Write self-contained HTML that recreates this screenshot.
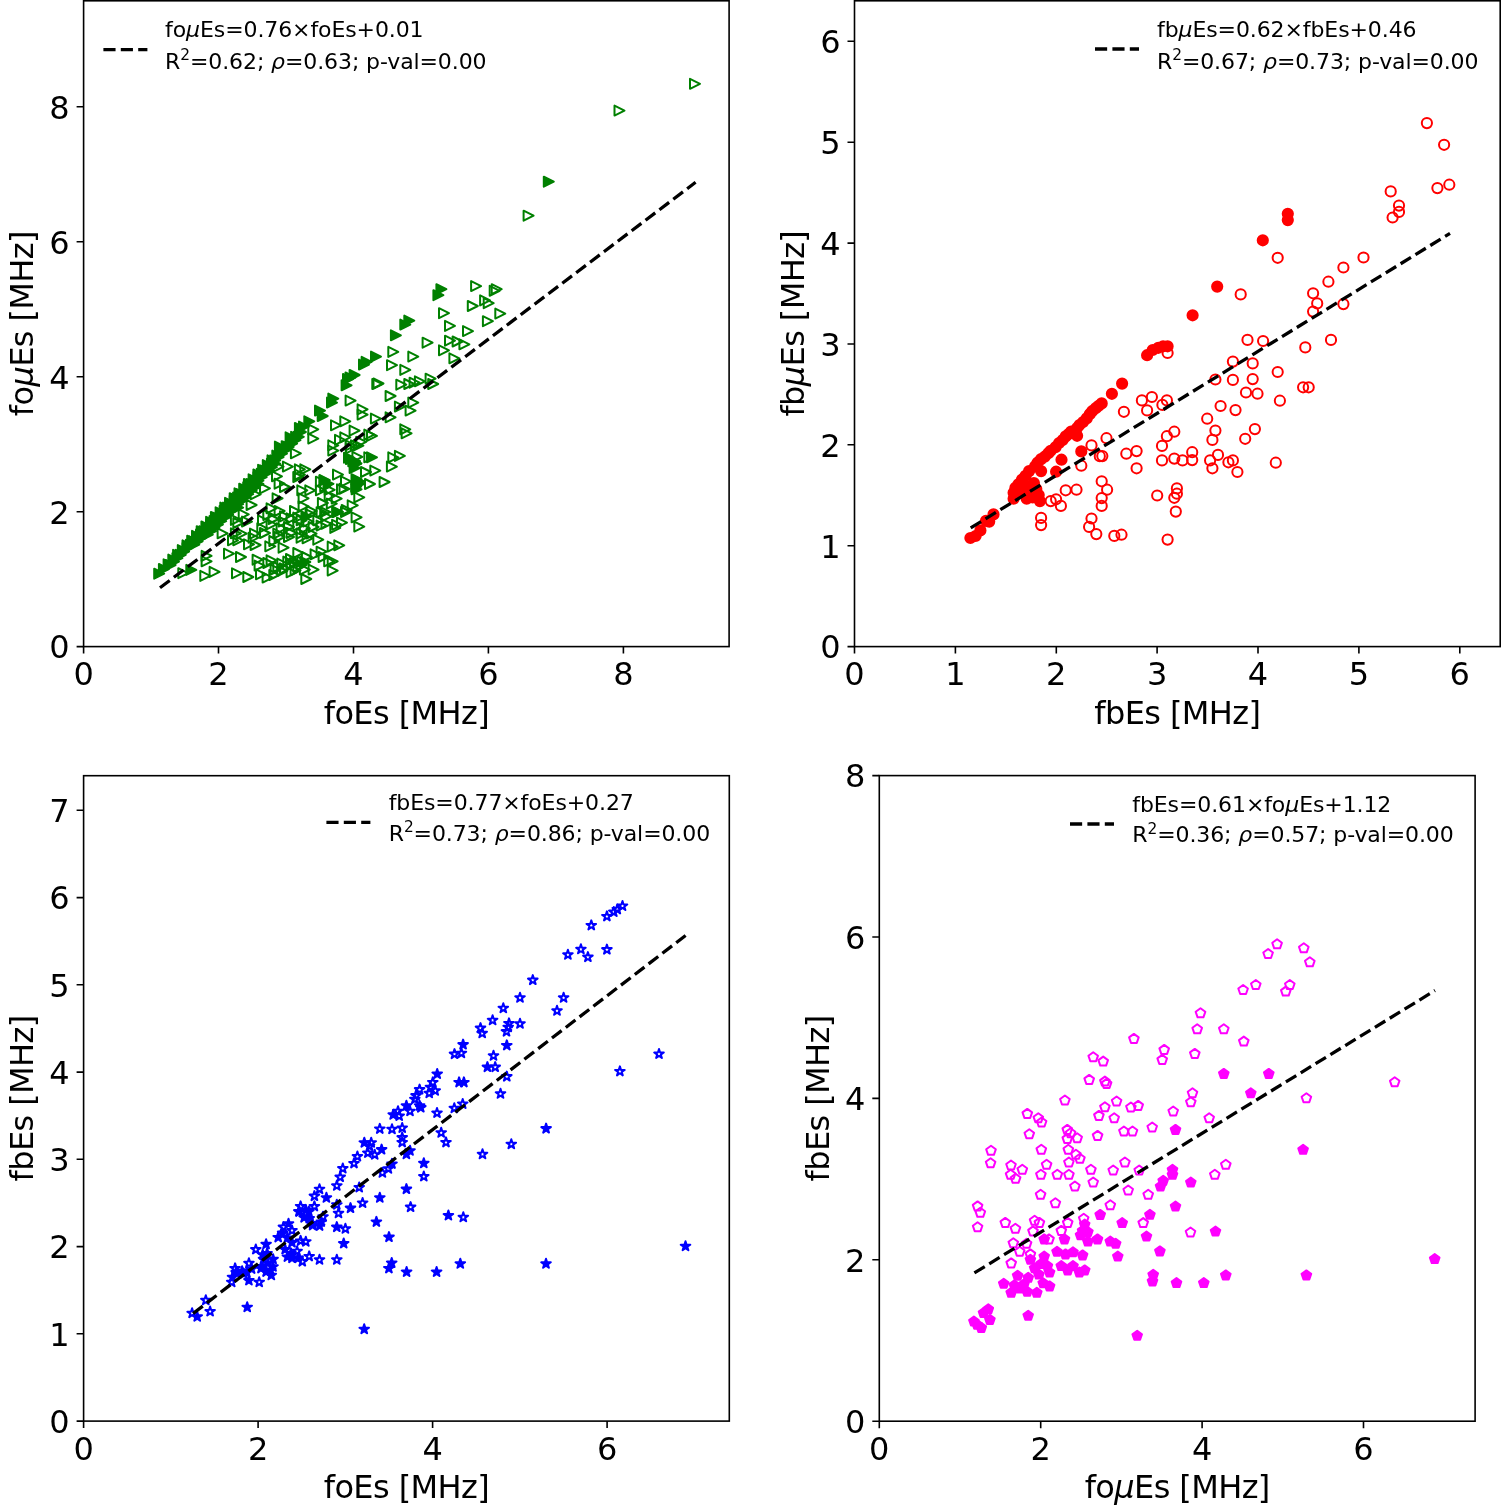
<!DOCTYPE html><html><head><meta charset="utf-8"><style>html,body{margin:0;padding:0;background:#fff;width:1501px;height:1509px;overflow:hidden}svg{display:block}text{font-family:'DejaVu Sans', 'Liberation Sans', sans-serif;fill:#000}</style></head><body>
<svg width="1501" height="1509" viewBox="0 0 1501 1509">
<rect width="1501" height="1509" fill="#fff"/>
<g id="TL">
<clipPath id="cTL"><rect x="83.6" y="0.8" width="645.5" height="645.8000000000001"/></clipPath>
<g clip-path="url(#cTL)">
<path d="M164.2,573.7L154.2,568.7L154.2,578.7Z" fill="#008000" stroke="#008000" stroke-width="2" stroke-linejoin="round"/>
<path d="M168.9,569.0L158.9,564.0L158.9,574.0Z" fill="#008000" stroke="#008000" stroke-width="2" stroke-linejoin="round"/>
<path d="M173.6,564.3L163.6,559.3L163.6,569.3Z" fill="#008000" stroke="#008000" stroke-width="2" stroke-linejoin="round"/>
<path d="M178.3,559.6L168.3,554.6L168.3,564.6Z" fill="#008000" stroke="#008000" stroke-width="2" stroke-linejoin="round"/>
<path d="M183.1,554.8L173.1,549.8L173.1,559.8Z" fill="#008000" stroke="#008000" stroke-width="2" stroke-linejoin="round"/>
<path d="M187.8,550.1L177.8,545.1L177.8,555.1Z" fill="#008000" stroke="#008000" stroke-width="2" stroke-linejoin="round"/>
<path d="M192.5,545.4L182.5,540.4L182.5,550.4Z" fill="#008000" stroke="#008000" stroke-width="2" stroke-linejoin="round"/>
<path d="M197.2,540.7L187.2,535.7L187.2,545.7Z" fill="#008000" stroke="#008000" stroke-width="2" stroke-linejoin="round"/>
<path d="M202.0,535.9L192.0,530.9L192.0,540.9Z" fill="#008000" stroke="#008000" stroke-width="2" stroke-linejoin="round"/>
<path d="M206.7,531.2L196.7,526.2L196.7,536.2Z" fill="#008000" stroke="#008000" stroke-width="2" stroke-linejoin="round"/>
<path d="M211.4,526.5L201.4,521.5L201.4,531.5Z" fill="#008000" stroke="#008000" stroke-width="2" stroke-linejoin="round"/>
<path d="M216.1,521.8L206.1,516.8L206.1,526.8Z" fill="#008000" stroke="#008000" stroke-width="2" stroke-linejoin="round"/>
<path d="M220.9,517.0L210.9,512.0L210.9,522.0Z" fill="#008000" stroke="#008000" stroke-width="2" stroke-linejoin="round"/>
<path d="M225.6,512.3L215.6,507.3L215.6,517.3Z" fill="#008000" stroke="#008000" stroke-width="2" stroke-linejoin="round"/>
<path d="M230.3,507.6L220.3,502.6L220.3,512.6Z" fill="#008000" stroke="#008000" stroke-width="2" stroke-linejoin="round"/>
<path d="M235.0,502.9L225.0,497.9L225.0,507.9Z" fill="#008000" stroke="#008000" stroke-width="2" stroke-linejoin="round"/>
<path d="M239.7,498.2L229.7,493.2L229.7,503.2Z" fill="#008000" stroke="#008000" stroke-width="2" stroke-linejoin="round"/>
<path d="M244.5,493.4L234.5,488.4L234.5,498.4Z" fill="#008000" stroke="#008000" stroke-width="2" stroke-linejoin="round"/>
<path d="M249.2,488.7L239.2,483.7L239.2,493.7Z" fill="#008000" stroke="#008000" stroke-width="2" stroke-linejoin="round"/>
<path d="M253.9,484.0L243.9,479.0L243.9,489.0Z" fill="#008000" stroke="#008000" stroke-width="2" stroke-linejoin="round"/>
<path d="M258.6,479.3L248.6,474.3L248.6,484.3Z" fill="#008000" stroke="#008000" stroke-width="2" stroke-linejoin="round"/>
<path d="M263.4,474.5L253.4,469.5L253.4,479.5Z" fill="#008000" stroke="#008000" stroke-width="2" stroke-linejoin="round"/>
<path d="M268.1,469.8L258.1,464.8L258.1,474.8Z" fill="#008000" stroke="#008000" stroke-width="2" stroke-linejoin="round"/>
<path d="M272.8,465.1L262.8,460.1L262.8,470.1Z" fill="#008000" stroke="#008000" stroke-width="2" stroke-linejoin="round"/>
<path d="M277.5,460.4L267.5,455.4L267.5,465.4Z" fill="#008000" stroke="#008000" stroke-width="2" stroke-linejoin="round"/>
<path d="M282.3,455.6L272.3,450.6L272.3,460.6Z" fill="#008000" stroke="#008000" stroke-width="2" stroke-linejoin="round"/>
<path d="M287.0,450.9L277.0,445.9L277.0,455.9Z" fill="#008000" stroke="#008000" stroke-width="2" stroke-linejoin="round"/>
<path d="M291.7,446.2L281.7,441.2L281.7,451.2Z" fill="#008000" stroke="#008000" stroke-width="2" stroke-linejoin="round"/>
<path d="M296.4,441.5L286.4,436.5L286.4,446.5Z" fill="#008000" stroke="#008000" stroke-width="2" stroke-linejoin="round"/>
<path d="M301.1,436.8L291.1,431.8L291.1,441.8Z" fill="#008000" stroke="#008000" stroke-width="2" stroke-linejoin="round"/>
<path d="M305.9,432.0L295.9,427.0L295.9,437.0Z" fill="#008000" stroke="#008000" stroke-width="2" stroke-linejoin="round"/>
<path d="M175.6,565.0L165.6,560.0L165.6,570.0Z" fill="#008000" stroke="#008000" stroke-width="2" stroke-linejoin="round"/>
<path d="M179.0,561.6L169.0,556.6L169.0,566.6Z" fill="#008000" stroke="#008000" stroke-width="2" stroke-linejoin="round"/>
<path d="M182.4,558.2L172.4,553.2L172.4,563.2Z" fill="#008000" stroke="#008000" stroke-width="2" stroke-linejoin="round"/>
<path d="M185.8,554.8L175.8,549.8L175.8,559.8Z" fill="#008000" stroke="#008000" stroke-width="2" stroke-linejoin="round"/>
<path d="M189.1,551.5L179.1,546.5L179.1,556.5Z" fill="#008000" stroke="#008000" stroke-width="2" stroke-linejoin="round"/>
<path d="M192.5,548.1L182.5,543.1L182.5,553.1Z" fill="#008000" stroke="#008000" stroke-width="2" stroke-linejoin="round"/>
<path d="M195.9,544.7L185.9,539.7L185.9,549.7Z" fill="#008000" stroke="#008000" stroke-width="2" stroke-linejoin="round"/>
<path d="M199.3,541.3L189.3,536.3L189.3,546.3Z" fill="#008000" stroke="#008000" stroke-width="2" stroke-linejoin="round"/>
<path d="M199.3,544.7L189.3,539.7L189.3,549.7Z" fill="#008000" stroke="#008000" stroke-width="2" stroke-linejoin="round"/>
<path d="M202.6,538.0L192.6,533.0L192.6,543.0Z" fill="#008000" stroke="#008000" stroke-width="2" stroke-linejoin="round"/>
<path d="M202.6,541.3L192.6,536.3L192.6,546.3Z" fill="#008000" stroke="#008000" stroke-width="2" stroke-linejoin="round"/>
<path d="M206.0,534.6L196.0,529.6L196.0,539.6Z" fill="#008000" stroke="#008000" stroke-width="2" stroke-linejoin="round"/>
<path d="M206.0,538.0L196.0,533.0L196.0,543.0Z" fill="#008000" stroke="#008000" stroke-width="2" stroke-linejoin="round"/>
<path d="M209.4,531.2L199.4,526.2L199.4,536.2Z" fill="#008000" stroke="#008000" stroke-width="2" stroke-linejoin="round"/>
<path d="M209.4,534.6L199.4,529.6L199.4,539.6Z" fill="#008000" stroke="#008000" stroke-width="2" stroke-linejoin="round"/>
<path d="M212.8,527.8L202.8,522.8L202.8,532.8Z" fill="#008000" stroke="#008000" stroke-width="2" stroke-linejoin="round"/>
<path d="M212.8,531.2L202.8,526.2L202.8,536.2Z" fill="#008000" stroke="#008000" stroke-width="2" stroke-linejoin="round"/>
<path d="M212.8,534.6L202.8,529.6L202.8,539.6Z" fill="#008000" stroke="#008000" stroke-width="2" stroke-linejoin="round"/>
<path d="M216.1,524.5L206.1,519.5L206.1,529.5Z" fill="#008000" stroke="#008000" stroke-width="2" stroke-linejoin="round"/>
<path d="M216.1,527.8L206.1,522.8L206.1,532.8Z" fill="#008000" stroke="#008000" stroke-width="2" stroke-linejoin="round"/>
<path d="M216.1,531.2L206.1,526.2L206.1,536.2Z" fill="#008000" stroke="#008000" stroke-width="2" stroke-linejoin="round"/>
<path d="M219.5,521.1L209.5,516.1L209.5,526.1Z" fill="#008000" stroke="#008000" stroke-width="2" stroke-linejoin="round"/>
<path d="M219.5,524.5L209.5,519.5L209.5,529.5Z" fill="#008000" stroke="#008000" stroke-width="2" stroke-linejoin="round"/>
<path d="M219.5,527.8L209.5,522.8L209.5,532.8Z" fill="#008000" stroke="#008000" stroke-width="2" stroke-linejoin="round"/>
<path d="M222.9,517.7L212.9,512.7L212.9,522.7Z" fill="#008000" stroke="#008000" stroke-width="2" stroke-linejoin="round"/>
<path d="M222.9,521.1L212.9,516.1L212.9,526.1Z" fill="#008000" stroke="#008000" stroke-width="2" stroke-linejoin="round"/>
<path d="M222.9,524.5L212.9,519.5L212.9,529.5Z" fill="#008000" stroke="#008000" stroke-width="2" stroke-linejoin="round"/>
<path d="M226.2,514.3L216.2,509.3L216.2,519.3Z" fill="#008000" stroke="#008000" stroke-width="2" stroke-linejoin="round"/>
<path d="M226.2,517.7L216.2,512.7L216.2,522.7Z" fill="#008000" stroke="#008000" stroke-width="2" stroke-linejoin="round"/>
<path d="M226.2,521.1L216.2,516.1L216.2,526.1Z" fill="#008000" stroke="#008000" stroke-width="2" stroke-linejoin="round"/>
<path d="M229.6,511.0L219.6,506.0L219.6,516.0Z" fill="#008000" stroke="#008000" stroke-width="2" stroke-linejoin="round"/>
<path d="M229.6,514.3L219.6,509.3L219.6,519.3Z" fill="#008000" stroke="#008000" stroke-width="2" stroke-linejoin="round"/>
<path d="M229.6,517.7L219.6,512.7L219.6,522.7Z" fill="#008000" stroke="#008000" stroke-width="2" stroke-linejoin="round"/>
<path d="M233.0,507.6L223.0,502.6L223.0,512.6Z" fill="#008000" stroke="#008000" stroke-width="2" stroke-linejoin="round"/>
<path d="M233.0,511.0L223.0,506.0L223.0,516.0Z" fill="#008000" stroke="#008000" stroke-width="2" stroke-linejoin="round"/>
<path d="M233.0,514.3L223.0,509.3L223.0,519.3Z" fill="#008000" stroke="#008000" stroke-width="2" stroke-linejoin="round"/>
<path d="M236.4,504.2L226.4,499.2L226.4,509.2Z" fill="#008000" stroke="#008000" stroke-width="2" stroke-linejoin="round"/>
<path d="M236.4,507.6L226.4,502.6L226.4,512.6Z" fill="#008000" stroke="#008000" stroke-width="2" stroke-linejoin="round"/>
<path d="M236.4,511.0L226.4,506.0L226.4,516.0Z" fill="#008000" stroke="#008000" stroke-width="2" stroke-linejoin="round"/>
<path d="M239.7,500.9L229.7,495.9L229.7,505.9Z" fill="#008000" stroke="#008000" stroke-width="2" stroke-linejoin="round"/>
<path d="M239.7,504.2L229.7,499.2L229.7,509.2Z" fill="#008000" stroke="#008000" stroke-width="2" stroke-linejoin="round"/>
<path d="M239.7,507.6L229.7,502.6L229.7,512.6Z" fill="#008000" stroke="#008000" stroke-width="2" stroke-linejoin="round"/>
<path d="M243.1,497.5L233.1,492.5L233.1,502.5Z" fill="#008000" stroke="#008000" stroke-width="2" stroke-linejoin="round"/>
<path d="M243.1,500.9L233.1,495.9L233.1,505.9Z" fill="#008000" stroke="#008000" stroke-width="2" stroke-linejoin="round"/>
<path d="M243.1,504.2L233.1,499.2L233.1,509.2Z" fill="#008000" stroke="#008000" stroke-width="2" stroke-linejoin="round"/>
<path d="M243.1,507.6L233.1,502.6L233.1,512.6Z" fill="#008000" stroke="#008000" stroke-width="2" stroke-linejoin="round"/>
<path d="M246.5,494.1L236.5,489.1L236.5,499.1Z" fill="#008000" stroke="#008000" stroke-width="2" stroke-linejoin="round"/>
<path d="M246.5,497.5L236.5,492.5L236.5,502.5Z" fill="#008000" stroke="#008000" stroke-width="2" stroke-linejoin="round"/>
<path d="M246.5,500.9L236.5,495.9L236.5,505.9Z" fill="#008000" stroke="#008000" stroke-width="2" stroke-linejoin="round"/>
<path d="M249.9,490.7L239.9,485.7L239.9,495.7Z" fill="#008000" stroke="#008000" stroke-width="2" stroke-linejoin="round"/>
<path d="M249.9,494.1L239.9,489.1L239.9,499.1Z" fill="#008000" stroke="#008000" stroke-width="2" stroke-linejoin="round"/>
<path d="M249.9,497.5L239.9,492.5L239.9,502.5Z" fill="#008000" stroke="#008000" stroke-width="2" stroke-linejoin="round"/>
<path d="M253.2,487.4L243.2,482.4L243.2,492.4Z" fill="#008000" stroke="#008000" stroke-width="2" stroke-linejoin="round"/>
<path d="M253.2,490.7L243.2,485.7L243.2,495.7Z" fill="#008000" stroke="#008000" stroke-width="2" stroke-linejoin="round"/>
<path d="M253.2,494.1L243.2,489.1L243.2,499.1Z" fill="#008000" stroke="#008000" stroke-width="2" stroke-linejoin="round"/>
<path d="M256.6,484.0L246.6,479.0L246.6,489.0Z" fill="#008000" stroke="#008000" stroke-width="2" stroke-linejoin="round"/>
<path d="M256.6,487.4L246.6,482.4L246.6,492.4Z" fill="#008000" stroke="#008000" stroke-width="2" stroke-linejoin="round"/>
<path d="M256.6,490.7L246.6,485.7L246.6,495.7Z" fill="#008000" stroke="#008000" stroke-width="2" stroke-linejoin="round"/>
<path d="M260.0,480.6L250.0,475.6L250.0,485.6Z" fill="#008000" stroke="#008000" stroke-width="2" stroke-linejoin="round"/>
<path d="M260.0,484.0L250.0,479.0L250.0,489.0Z" fill="#008000" stroke="#008000" stroke-width="2" stroke-linejoin="round"/>
<path d="M260.0,487.4L250.0,482.4L250.0,492.4Z" fill="#008000" stroke="#008000" stroke-width="2" stroke-linejoin="round"/>
<path d="M263.4,477.2L253.4,472.2L253.4,482.2Z" fill="#008000" stroke="#008000" stroke-width="2" stroke-linejoin="round"/>
<path d="M263.4,480.6L253.4,475.6L253.4,485.6Z" fill="#008000" stroke="#008000" stroke-width="2" stroke-linejoin="round"/>
<path d="M263.4,484.0L253.4,479.0L253.4,489.0Z" fill="#008000" stroke="#008000" stroke-width="2" stroke-linejoin="round"/>
<path d="M266.7,473.9L256.7,468.9L256.7,478.9Z" fill="#008000" stroke="#008000" stroke-width="2" stroke-linejoin="round"/>
<path d="M266.7,477.2L256.7,472.2L256.7,482.2Z" fill="#008000" stroke="#008000" stroke-width="2" stroke-linejoin="round"/>
<path d="M270.1,470.5L260.1,465.5L260.1,475.5Z" fill="#008000" stroke="#008000" stroke-width="2" stroke-linejoin="round"/>
<path d="M270.1,473.9L260.1,468.9L260.1,478.9Z" fill="#008000" stroke="#008000" stroke-width="2" stroke-linejoin="round"/>
<path d="M273.5,467.1L263.5,462.1L263.5,472.1Z" fill="#008000" stroke="#008000" stroke-width="2" stroke-linejoin="round"/>
<path d="M273.5,470.5L263.5,465.5L263.5,475.5Z" fill="#008000" stroke="#008000" stroke-width="2" stroke-linejoin="round"/>
<path d="M276.9,463.7L266.9,458.7L266.9,468.7Z" fill="#008000" stroke="#008000" stroke-width="2" stroke-linejoin="round"/>
<path d="M276.9,467.1L266.9,462.1L266.9,472.1Z" fill="#008000" stroke="#008000" stroke-width="2" stroke-linejoin="round"/>
<path d="M280.2,460.4L270.2,455.4L270.2,465.4Z" fill="#008000" stroke="#008000" stroke-width="2" stroke-linejoin="round"/>
<path d="M280.2,463.7L270.2,458.7L270.2,468.7Z" fill="#008000" stroke="#008000" stroke-width="2" stroke-linejoin="round"/>
<path d="M283.6,457.0L273.6,452.0L273.6,462.0Z" fill="#008000" stroke="#008000" stroke-width="2" stroke-linejoin="round"/>
<path d="M287.0,453.6L277.0,448.6L277.0,458.6Z" fill="#008000" stroke="#008000" stroke-width="2" stroke-linejoin="round"/>
<path d="M290.4,450.2L280.4,445.2L280.4,455.2Z" fill="#008000" stroke="#008000" stroke-width="2" stroke-linejoin="round"/>
<path d="M293.7,446.9L283.7,441.9L283.7,451.9Z" fill="#008000" stroke="#008000" stroke-width="2" stroke-linejoin="round"/>
<path d="M297.1,443.5L287.1,438.5L287.1,448.5Z" fill="#008000" stroke="#008000" stroke-width="2" stroke-linejoin="round"/>
<path d="M300.5,440.1L290.5,435.1L290.5,445.1Z" fill="#008000" stroke="#008000" stroke-width="2" stroke-linejoin="round"/>
<path d="M303.8,436.8L293.8,431.8L293.8,441.8Z" fill="#008000" stroke="#008000" stroke-width="2" stroke-linejoin="round"/>
<path d="M188.3,573.2L178.3,568.2L178.3,578.2Z" fill="none" stroke="#008000" stroke-width="2" stroke-linejoin="round"/>
<path d="M196.3,569.9L186.3,564.9L186.3,574.9Z" fill="#008000" stroke="#008000" stroke-width="2" stroke-linejoin="round"/>
<path d="M210.3,575.9L200.3,570.9L200.3,580.9Z" fill="none" stroke="#008000" stroke-width="2" stroke-linejoin="round"/>
<path d="M219.6,571.9L209.6,566.9L209.6,576.9Z" fill="none" stroke="#008000" stroke-width="2" stroke-linejoin="round"/>
<path d="M211.6,555.9L201.6,550.9L201.6,560.9Z" fill="none" stroke="#008000" stroke-width="2" stroke-linejoin="round"/>
<path d="M211.6,561.3L201.6,556.3L201.6,566.3Z" fill="none" stroke="#008000" stroke-width="2" stroke-linejoin="round"/>
<path d="M334.2,561.3L324.2,556.3L324.2,566.3Z" fill="none" stroke="#008000" stroke-width="2" stroke-linejoin="round"/>
<path d="M227.6,533.3L217.6,528.3L217.6,538.3Z" fill="none" stroke="#008000" stroke-width="2" stroke-linejoin="round"/>
<path d="M240.9,533.3L230.9,528.3L230.9,538.3Z" fill="none" stroke="#008000" stroke-width="2" stroke-linejoin="round"/>
<path d="M330.2,512.0L320.2,507.0L320.2,517.0Z" fill="none" stroke="#008000" stroke-width="2" stroke-linejoin="round"/>
<path d="M283.6,466.6L273.6,461.6L273.6,471.6Z" fill="none" stroke="#008000" stroke-width="2" stroke-linejoin="round"/>
<path d="M292.9,466.6L282.9,461.6L282.9,471.6Z" fill="none" stroke="#008000" stroke-width="2" stroke-linejoin="round"/>
<path d="M304.9,469.3L294.9,464.3L294.9,474.3Z" fill="none" stroke="#008000" stroke-width="2" stroke-linejoin="round"/>
<path d="M304.9,474.6L294.9,469.6L294.9,479.6Z" fill="none" stroke="#008000" stroke-width="2" stroke-linejoin="round"/>
<path d="M330.2,486.6L320.2,481.6L320.2,491.6Z" fill="none" stroke="#008000" stroke-width="2" stroke-linejoin="round"/>
<path d="M240.9,519.9L230.9,514.9L230.9,524.9Z" fill="none" stroke="#008000" stroke-width="2" stroke-linejoin="round"/>
<path d="M380.3,470.6L370.3,465.6L370.3,475.6Z" fill="none" stroke="#008000" stroke-width="2" stroke-linejoin="round"/>
<path d="M371.0,472.0L361.0,467.0L361.0,477.0Z" fill="none" stroke="#008000" stroke-width="2" stroke-linejoin="round"/>
<path d="M343.0,474.6L333.0,469.6L333.0,479.6Z" fill="none" stroke="#008000" stroke-width="2" stroke-linejoin="round"/>
<path d="M351.0,481.3L341.0,476.3L341.0,486.3Z" fill="none" stroke="#008000" stroke-width="2" stroke-linejoin="round"/>
<path d="M364.3,481.3L354.3,476.3L354.3,486.3Z" fill="#008000" stroke="#008000" stroke-width="2" stroke-linejoin="round"/>
<path d="M375.0,484.0L365.0,479.0L365.0,489.0Z" fill="none" stroke="#008000" stroke-width="2" stroke-linejoin="round"/>
<path d="M389.6,482.0L379.6,477.0L379.6,487.0Z" fill="none" stroke="#008000" stroke-width="2" stroke-linejoin="round"/>
<path d="M361.6,489.3L351.6,484.3L351.6,494.3Z" fill="#008000" stroke="#008000" stroke-width="2" stroke-linejoin="round"/>
<path d="M347.0,489.3L337.0,484.3L337.0,494.3Z" fill="none" stroke="#008000" stroke-width="2" stroke-linejoin="round"/>
<path d="M364.3,497.3L354.3,492.3L354.3,502.3Z" fill="none" stroke="#008000" stroke-width="2" stroke-linejoin="round"/>
<path d="M341.7,498.6L331.7,493.6L331.7,503.6Z" fill="none" stroke="#008000" stroke-width="2" stroke-linejoin="round"/>
<path d="M357.7,505.3L347.7,500.3L347.7,510.3Z" fill="none" stroke="#008000" stroke-width="2" stroke-linejoin="round"/>
<path d="M343.0,512.0L333.0,507.0L333.0,517.0Z" fill="#008000" stroke="#008000" stroke-width="2" stroke-linejoin="round"/>
<path d="M351.0,512.0L341.0,507.0L341.0,517.0Z" fill="none" stroke="#008000" stroke-width="2" stroke-linejoin="round"/>
<path d="M361.6,517.3L351.6,512.3L351.6,522.3Z" fill="none" stroke="#008000" stroke-width="2" stroke-linejoin="round"/>
<path d="M347.0,522.6L337.0,517.6L337.0,527.6Z" fill="none" stroke="#008000" stroke-width="2" stroke-linejoin="round"/>
<path d="M364.3,526.6L354.3,521.6L354.3,531.6Z" fill="none" stroke="#008000" stroke-width="2" stroke-linejoin="round"/>
<path d="M340.3,527.9L330.3,522.9L330.3,532.9Z" fill="none" stroke="#008000" stroke-width="2" stroke-linejoin="round"/>
<path d="M344.3,545.3L334.3,540.3L334.3,550.3Z" fill="none" stroke="#008000" stroke-width="2" stroke-linejoin="round"/>
<path d="M337.7,546.6L327.7,541.6L327.7,551.6Z" fill="none" stroke="#008000" stroke-width="2" stroke-linejoin="round"/>
<path d="M337.7,561.3L327.7,556.3L327.7,566.3Z" fill="none" stroke="#008000" stroke-width="2" stroke-linejoin="round"/>
<path d="M337.7,570.6L327.7,565.6L327.7,575.6Z" fill="none" stroke="#008000" stroke-width="2" stroke-linejoin="round"/>
<path d="M351.6,385.3L341.6,380.3L341.6,390.3Z" fill="#008000" stroke="#008000" stroke-width="2" stroke-linejoin="round"/>
<path d="M338.3,398.6L328.3,393.6L328.3,403.6Z" fill="#008000" stroke="#008000" stroke-width="2" stroke-linejoin="round"/>
<path d="M337.0,402.6L327.0,397.6L327.0,407.6Z" fill="#008000" stroke="#008000" stroke-width="2" stroke-linejoin="round"/>
<path d="M325.0,410.6L315.0,405.6L315.0,415.6Z" fill="#008000" stroke="#008000" stroke-width="2" stroke-linejoin="round"/>
<path d="M327.7,416.0L317.7,411.0L317.7,421.0Z" fill="#008000" stroke="#008000" stroke-width="2" stroke-linejoin="round"/>
<path d="M314.3,421.3L304.3,416.3L304.3,426.3Z" fill="#008000" stroke="#008000" stroke-width="2" stroke-linejoin="round"/>
<path d="M309.0,426.6L299.0,421.6L299.0,431.6Z" fill="#008000" stroke="#008000" stroke-width="2" stroke-linejoin="round"/>
<path d="M382.3,384.0L372.3,379.0L372.3,389.0Z" fill="none" stroke="#008000" stroke-width="2" stroke-linejoin="round"/>
<path d="M406.3,384.7L396.3,379.7L396.3,389.7Z" fill="none" stroke="#008000" stroke-width="2" stroke-linejoin="round"/>
<path d="M414.3,384.0L404.3,379.0L404.3,389.0Z" fill="none" stroke="#008000" stroke-width="2" stroke-linejoin="round"/>
<path d="M419.6,382.7L409.6,377.7L409.6,387.7Z" fill="none" stroke="#008000" stroke-width="2" stroke-linejoin="round"/>
<path d="M424.9,381.3L414.9,376.3L414.9,386.3Z" fill="none" stroke="#008000" stroke-width="2" stroke-linejoin="round"/>
<path d="M435.6,378.7L425.6,373.7L425.6,383.7Z" fill="none" stroke="#008000" stroke-width="2" stroke-linejoin="round"/>
<path d="M438.2,384.0L428.2,379.0L428.2,389.0Z" fill="none" stroke="#008000" stroke-width="2" stroke-linejoin="round"/>
<path d="M395.6,396.0L385.6,391.0L385.6,401.0Z" fill="none" stroke="#008000" stroke-width="2" stroke-linejoin="round"/>
<path d="M355.6,400.6L345.6,395.6L345.6,405.6Z" fill="none" stroke="#008000" stroke-width="2" stroke-linejoin="round"/>
<path d="M367.6,409.3L357.6,404.3L357.6,414.3Z" fill="none" stroke="#008000" stroke-width="2" stroke-linejoin="round"/>
<path d="M367.6,414.6L357.6,409.6L357.6,419.6Z" fill="none" stroke="#008000" stroke-width="2" stroke-linejoin="round"/>
<path d="M380.9,418.6L370.9,413.6L370.9,423.6Z" fill="none" stroke="#008000" stroke-width="2" stroke-linejoin="round"/>
<path d="M395.6,417.3L385.6,412.3L385.6,422.3Z" fill="none" stroke="#008000" stroke-width="2" stroke-linejoin="round"/>
<path d="M404.9,406.6L394.9,401.6L394.9,411.6Z" fill="none" stroke="#008000" stroke-width="2" stroke-linejoin="round"/>
<path d="M418.3,402.6L408.3,397.6L408.3,407.6Z" fill="none" stroke="#008000" stroke-width="2" stroke-linejoin="round"/>
<path d="M415.6,410.6L405.6,405.6L405.6,415.6Z" fill="none" stroke="#008000" stroke-width="2" stroke-linejoin="round"/>
<path d="M341.0,425.3L331.0,420.3L331.0,430.3Z" fill="none" stroke="#008000" stroke-width="2" stroke-linejoin="round"/>
<path d="M350.3,421.3L340.3,416.3L340.3,426.3Z" fill="none" stroke="#008000" stroke-width="2" stroke-linejoin="round"/>
<path d="M318.3,429.3L308.3,424.3L308.3,434.3Z" fill="none" stroke="#008000" stroke-width="2" stroke-linejoin="round"/>
<path d="M318.3,438.6L308.3,433.6L308.3,443.6Z" fill="none" stroke="#008000" stroke-width="2" stroke-linejoin="round"/>
<path d="M359.6,430.6L349.6,425.6L349.6,435.6Z" fill="none" stroke="#008000" stroke-width="2" stroke-linejoin="round"/>
<path d="M374.3,434.6L364.3,429.6L364.3,439.6Z" fill="none" stroke="#008000" stroke-width="2" stroke-linejoin="round"/>
<path d="M377.0,435.9L367.0,430.9L367.0,440.9Z" fill="none" stroke="#008000" stroke-width="2" stroke-linejoin="round"/>
<path d="M338.3,445.3L328.3,440.3L328.3,450.3Z" fill="none" stroke="#008000" stroke-width="2" stroke-linejoin="round"/>
<path d="M338.3,450.6L328.3,445.6L328.3,455.6Z" fill="none" stroke="#008000" stroke-width="2" stroke-linejoin="round"/>
<path d="M345.0,439.9L335.0,434.9L335.0,444.9Z" fill="none" stroke="#008000" stroke-width="2" stroke-linejoin="round"/>
<path d="M350.3,437.3L340.3,432.3L340.3,442.3Z" fill="none" stroke="#008000" stroke-width="2" stroke-linejoin="round"/>
<path d="M355.6,445.3L345.6,440.3L345.6,450.3Z" fill="none" stroke="#008000" stroke-width="2" stroke-linejoin="round"/>
<path d="M361.0,445.3L351.0,440.3L351.0,450.3Z" fill="none" stroke="#008000" stroke-width="2" stroke-linejoin="round"/>
<path d="M410.3,429.3L400.3,424.3L400.3,434.3Z" fill="none" stroke="#008000" stroke-width="2" stroke-linejoin="round"/>
<path d="M411.6,433.3L401.6,428.3L401.6,438.3Z" fill="none" stroke="#008000" stroke-width="2" stroke-linejoin="round"/>
<path d="M358.3,461.3L348.3,456.3L348.3,466.3Z" fill="#008000" stroke="#008000" stroke-width="2" stroke-linejoin="round"/>
<path d="M361.0,463.9L351.0,458.9L351.0,468.9Z" fill="#008000" stroke="#008000" stroke-width="2" stroke-linejoin="round"/>
<path d="M377.0,457.3L367.0,452.3L367.0,462.3Z" fill="#008000" stroke="#008000" stroke-width="2" stroke-linejoin="round"/>
<path d="M374.3,457.3L364.3,452.3L364.3,462.3Z" fill="none" stroke="#008000" stroke-width="2" stroke-linejoin="round"/>
<path d="M398.3,457.3L388.3,452.3L388.3,462.3Z" fill="none" stroke="#008000" stroke-width="2" stroke-linejoin="round"/>
<path d="M404.9,455.9L394.9,450.9L394.9,460.9Z" fill="none" stroke="#008000" stroke-width="2" stroke-linejoin="round"/>
<path d="M396.9,466.6L386.9,461.6L386.9,471.6Z" fill="none" stroke="#008000" stroke-width="2" stroke-linejoin="round"/>
<path d="M310.3,469.3L300.3,464.3L300.3,474.3Z" fill="none" stroke="#008000" stroke-width="2" stroke-linejoin="round"/>
<path d="M300.9,453.3L290.9,448.3L290.9,458.3Z" fill="none" stroke="#008000" stroke-width="2" stroke-linejoin="round"/>
<path d="M304.9,428.0L294.9,423.0L294.9,433.0Z" fill="#008000" stroke="#008000" stroke-width="2" stroke-linejoin="round"/>
<path d="M295.6,437.3L285.6,432.3L285.6,442.3Z" fill="#008000" stroke="#008000" stroke-width="2" stroke-linejoin="round"/>
<path d="M284.9,446.6L274.9,441.6L274.9,451.6Z" fill="#008000" stroke="#008000" stroke-width="2" stroke-linejoin="round"/>
<path d="M414.3,320.6L404.3,315.6L404.3,325.6Z" fill="#008000" stroke="#008000" stroke-width="2" stroke-linejoin="round"/>
<path d="M410.3,324.6L400.3,319.6L400.3,329.6Z" fill="#008000" stroke="#008000" stroke-width="2" stroke-linejoin="round"/>
<path d="M400.9,335.3L390.9,330.3L390.9,340.3Z" fill="#008000" stroke="#008000" stroke-width="2" stroke-linejoin="round"/>
<path d="M381.0,356.6L371.0,351.6L371.0,361.6Z" fill="#008000" stroke="#008000" stroke-width="2" stroke-linejoin="round"/>
<path d="M371.6,361.9L361.6,356.9L361.6,366.9Z" fill="#008000" stroke="#008000" stroke-width="2" stroke-linejoin="round"/>
<path d="M369.0,364.6L359.0,359.6L359.0,369.6Z" fill="#008000" stroke="#008000" stroke-width="2" stroke-linejoin="round"/>
<path d="M398.3,351.9L388.3,346.9L388.3,356.9Z" fill="none" stroke="#008000" stroke-width="2" stroke-linejoin="round"/>
<path d="M418.3,356.6L408.3,351.6L408.3,361.6Z" fill="none" stroke="#008000" stroke-width="2" stroke-linejoin="round"/>
<path d="M397.0,365.2L387.0,360.2L387.0,370.2Z" fill="none" stroke="#008000" stroke-width="2" stroke-linejoin="round"/>
<path d="M410.3,369.9L400.3,364.9L400.3,374.9Z" fill="none" stroke="#008000" stroke-width="2" stroke-linejoin="round"/>
<path d="M446.4,289.2L436.4,284.2L436.4,294.2Z" fill="#008000" stroke="#008000" stroke-width="2" stroke-linejoin="round"/>
<path d="M443.4,295.2L433.4,290.2L433.4,300.2Z" fill="#008000" stroke="#008000" stroke-width="2" stroke-linejoin="round"/>
<path d="M481.1,286.1L471.1,281.1L471.1,291.1Z" fill="none" stroke="#008000" stroke-width="2" stroke-linejoin="round"/>
<path d="M501.7,289.2L491.7,284.2L491.7,294.2Z" fill="none" stroke="#008000" stroke-width="2" stroke-linejoin="round"/>
<path d="M499.7,290.8L489.7,285.8L489.7,295.8Z" fill="none" stroke="#008000" stroke-width="2" stroke-linejoin="round"/>
<path d="M490.1,300.4L480.1,295.4L480.1,305.4Z" fill="none" stroke="#008000" stroke-width="2" stroke-linejoin="round"/>
<path d="M493.7,303.2L483.7,298.2L483.7,308.2Z" fill="none" stroke="#008000" stroke-width="2" stroke-linejoin="round"/>
<path d="M477.8,306.0L467.8,301.0L467.8,311.0Z" fill="none" stroke="#008000" stroke-width="2" stroke-linejoin="round"/>
<path d="M449.0,313.2L439.0,308.2L439.0,318.2Z" fill="none" stroke="#008000" stroke-width="2" stroke-linejoin="round"/>
<path d="M505.3,313.6L495.3,308.6L495.3,318.6Z" fill="none" stroke="#008000" stroke-width="2" stroke-linejoin="round"/>
<path d="M492.9,321.2L482.9,316.2L482.9,326.2Z" fill="none" stroke="#008000" stroke-width="2" stroke-linejoin="round"/>
<path d="M455.0,325.9L445.0,320.9L445.0,330.9Z" fill="none" stroke="#008000" stroke-width="2" stroke-linejoin="round"/>
<path d="M473.0,331.1L463.0,326.1L463.0,336.1Z" fill="none" stroke="#008000" stroke-width="2" stroke-linejoin="round"/>
<path d="M432.6,342.7L422.6,337.7L422.6,347.7Z" fill="none" stroke="#008000" stroke-width="2" stroke-linejoin="round"/>
<path d="M455.0,340.7L445.0,335.7L445.0,345.7Z" fill="none" stroke="#008000" stroke-width="2" stroke-linejoin="round"/>
<path d="M462.6,341.5L452.6,336.5L452.6,346.5Z" fill="none" stroke="#008000" stroke-width="2" stroke-linejoin="round"/>
<path d="M469.4,344.3L459.4,339.3L459.4,349.3Z" fill="none" stroke="#008000" stroke-width="2" stroke-linejoin="round"/>
<path d="M449.0,350.3L439.0,345.3L439.0,355.3Z" fill="none" stroke="#008000" stroke-width="2" stroke-linejoin="round"/>
<path d="M459.4,358.3L449.4,353.3L449.4,363.3Z" fill="none" stroke="#008000" stroke-width="2" stroke-linejoin="round"/>
<path d="M242.0,573.3L232.0,568.3L232.0,578.3Z" fill="none" stroke="#008000" stroke-width="2" stroke-linejoin="round"/>
<path d="M253.3,577.0L243.3,572.0L243.3,582.0Z" fill="none" stroke="#008000" stroke-width="2" stroke-linejoin="round"/>
<path d="M266.0,574.3L256.0,569.3L256.0,579.3Z" fill="none" stroke="#008000" stroke-width="2" stroke-linejoin="round"/>
<path d="M272.6,577.6L262.6,572.6L262.6,582.6Z" fill="none" stroke="#008000" stroke-width="2" stroke-linejoin="round"/>
<path d="M279.3,575.0L269.3,570.0L269.3,580.0Z" fill="none" stroke="#008000" stroke-width="2" stroke-linejoin="round"/>
<path d="M287.3,571.0L277.3,566.0L277.3,576.0Z" fill="none" stroke="#008000" stroke-width="2" stroke-linejoin="round"/>
<path d="M296.6,565.0L286.6,560.0L286.6,570.0Z" fill="none" stroke="#008000" stroke-width="2" stroke-linejoin="round"/>
<path d="M300.6,570.3L290.6,565.3L290.6,575.3Z" fill="none" stroke="#008000" stroke-width="2" stroke-linejoin="round"/>
<path d="M309.9,569.6L299.9,564.6L299.9,574.6Z" fill="none" stroke="#008000" stroke-width="2" stroke-linejoin="round"/>
<path d="M311.3,579.0L301.3,574.0L301.3,584.0Z" fill="none" stroke="#008000" stroke-width="2" stroke-linejoin="round"/>
<path d="M318.6,569.6L308.6,564.6L308.6,574.6Z" fill="none" stroke="#008000" stroke-width="2" stroke-linejoin="round"/>
<path d="M246.0,557.0L236.0,552.0L236.0,562.0Z" fill="none" stroke="#008000" stroke-width="2" stroke-linejoin="round"/>
<path d="M262.6,559.7L252.6,554.7L252.6,564.7Z" fill="none" stroke="#008000" stroke-width="2" stroke-linejoin="round"/>
<path d="M264.6,565.6L254.6,560.6L254.6,570.6Z" fill="none" stroke="#008000" stroke-width="2" stroke-linejoin="round"/>
<path d="M273.3,563.0L263.3,558.0L263.3,568.0Z" fill="none" stroke="#008000" stroke-width="2" stroke-linejoin="round"/>
<path d="M276.6,560.3L266.6,555.3L266.6,565.3Z" fill="none" stroke="#008000" stroke-width="2" stroke-linejoin="round"/>
<path d="M287.3,563.6L277.3,558.6L277.3,568.6Z" fill="none" stroke="#008000" stroke-width="2" stroke-linejoin="round"/>
<path d="M296.0,559.0L286.0,554.0L286.0,564.0Z" fill="none" stroke="#008000" stroke-width="2" stroke-linejoin="round"/>
<path d="M303.3,553.0L293.3,548.0L293.3,558.0Z" fill="none" stroke="#008000" stroke-width="2" stroke-linejoin="round"/>
<path d="M307.3,561.6L297.3,556.6L297.3,566.6Z" fill="none" stroke="#008000" stroke-width="2" stroke-linejoin="round"/>
<path d="M311.9,557.0L301.9,552.0L301.9,562.0Z" fill="none" stroke="#008000" stroke-width="2" stroke-linejoin="round"/>
<path d="M320.6,554.3L310.6,549.3L310.6,559.3Z" fill="none" stroke="#008000" stroke-width="2" stroke-linejoin="round"/>
<path d="M326.6,551.7L316.6,546.7L316.6,556.7Z" fill="none" stroke="#008000" stroke-width="2" stroke-linejoin="round"/>
<path d="M328.6,557.0L318.6,552.0L318.6,562.0Z" fill="none" stroke="#008000" stroke-width="2" stroke-linejoin="round"/>
<path d="M254.0,544.3L244.0,539.3L244.0,549.3Z" fill="none" stroke="#008000" stroke-width="2" stroke-linejoin="round"/>
<path d="M260.6,545.0L250.6,540.0L250.6,550.0Z" fill="none" stroke="#008000" stroke-width="2" stroke-linejoin="round"/>
<path d="M275.3,546.3L265.3,541.3L265.3,551.3Z" fill="none" stroke="#008000" stroke-width="2" stroke-linejoin="round"/>
<path d="M279.3,541.0L269.3,536.0L269.3,546.0Z" fill="none" stroke="#008000" stroke-width="2" stroke-linejoin="round"/>
<path d="M288.6,547.7L278.6,542.7L278.6,552.7Z" fill="none" stroke="#008000" stroke-width="2" stroke-linejoin="round"/>
<path d="M306.6,537.7L296.6,532.7L296.6,542.7Z" fill="none" stroke="#008000" stroke-width="2" stroke-linejoin="round"/>
<path d="M312.6,538.3L302.6,533.3L302.6,543.3Z" fill="none" stroke="#008000" stroke-width="2" stroke-linejoin="round"/>
<path d="M323.3,539.7L313.3,534.7L313.3,544.7Z" fill="none" stroke="#008000" stroke-width="2" stroke-linejoin="round"/>
<path d="M234.0,553.7L224.0,548.7L224.0,558.7Z" fill="none" stroke="#008000" stroke-width="2" stroke-linejoin="round"/>
<path d="M238.0,540.3L228.0,535.3L228.0,545.3Z" fill="none" stroke="#008000" stroke-width="2" stroke-linejoin="round"/>
<path d="M243.3,540.3L233.3,535.3L233.3,545.3Z" fill="none" stroke="#008000" stroke-width="2" stroke-linejoin="round"/>
<path d="M258.6,537.7L248.6,532.7L248.6,542.7Z" fill="none" stroke="#008000" stroke-width="2" stroke-linejoin="round"/>
<path d="M284.6,537.0L274.6,532.0L274.6,542.0Z" fill="none" stroke="#008000" stroke-width="2" stroke-linejoin="round"/>
<path d="M294.0,537.0L284.0,532.0L284.0,542.0Z" fill="none" stroke="#008000" stroke-width="2" stroke-linejoin="round"/>
<path d="M283.3,567.0L273.3,562.0L273.3,572.0Z" fill="none" stroke="#008000" stroke-width="2" stroke-linejoin="round"/>
<path d="M290.0,568.3L280.0,563.3L280.0,573.3Z" fill="none" stroke="#008000" stroke-width="2" stroke-linejoin="round"/>
<path d="M293.3,561.6L283.3,556.6L283.3,566.6Z" fill="none" stroke="#008000" stroke-width="2" stroke-linejoin="round"/>
<path d="M300.0,563.0L290.0,558.0L290.0,568.0Z" fill="none" stroke="#008000" stroke-width="2" stroke-linejoin="round"/>
<path d="M303.3,567.0L293.3,562.0L293.3,572.0Z" fill="none" stroke="#008000" stroke-width="2" stroke-linejoin="round"/>
<path d="M306.6,565.0L296.6,560.0L296.6,570.0Z" fill="none" stroke="#008000" stroke-width="2" stroke-linejoin="round"/>
<path d="M280.6,569.6L270.6,564.6L270.6,574.6Z" fill="none" stroke="#008000" stroke-width="2" stroke-linejoin="round"/>
<path d="M296.6,572.3L286.6,567.3L286.6,577.3Z" fill="none" stroke="#008000" stroke-width="2" stroke-linejoin="round"/>
<path d="M270.0,488.3L260.0,483.3L260.0,493.3Z" fill="none" stroke="#008000" stroke-width="2" stroke-linejoin="round"/>
<path d="M260.6,494.3L250.6,489.3L250.6,499.3Z" fill="none" stroke="#008000" stroke-width="2" stroke-linejoin="round"/>
<path d="M284.6,483.7L274.6,478.7L274.6,488.7Z" fill="none" stroke="#008000" stroke-width="2" stroke-linejoin="round"/>
<path d="M290.0,487.0L280.0,482.0L280.0,492.0Z" fill="none" stroke="#008000" stroke-width="2" stroke-linejoin="round"/>
<path d="M282.6,498.3L272.6,493.3L272.6,503.3Z" fill="none" stroke="#008000" stroke-width="2" stroke-linejoin="round"/>
<path d="M303.3,477.0L293.3,472.0L293.3,482.0Z" fill="none" stroke="#008000" stroke-width="2" stroke-linejoin="round"/>
<path d="M307.3,490.3L297.3,485.3L297.3,495.3Z" fill="none" stroke="#008000" stroke-width="2" stroke-linejoin="round"/>
<path d="M315.3,490.3L305.3,485.3L305.3,495.3Z" fill="none" stroke="#008000" stroke-width="2" stroke-linejoin="round"/>
<path d="M308.6,498.3L298.6,493.3L298.6,503.3Z" fill="none" stroke="#008000" stroke-width="2" stroke-linejoin="round"/>
<path d="M325.9,481.7L315.9,476.7L315.9,486.7Z" fill="none" stroke="#008000" stroke-width="2" stroke-linejoin="round"/>
<path d="M325.9,490.3L315.9,485.3L315.9,495.3Z" fill="none" stroke="#008000" stroke-width="2" stroke-linejoin="round"/>
<path d="M327.9,503.0L317.9,498.0L317.9,508.0Z" fill="none" stroke="#008000" stroke-width="2" stroke-linejoin="round"/>
<path d="M282.0,476.3L272.0,471.3L272.0,481.3Z" fill="none" stroke="#008000" stroke-width="2" stroke-linejoin="round"/>
<path d="M256.6,505.0L246.6,500.0L246.6,510.0Z" fill="none" stroke="#008000" stroke-width="2" stroke-linejoin="round"/>
<path d="M248.7,514.3L238.7,509.3L238.7,519.3Z" fill="none" stroke="#008000" stroke-width="2" stroke-linejoin="round"/>
<path d="M276.6,508.3L266.6,503.3L266.6,513.3Z" fill="none" stroke="#008000" stroke-width="2" stroke-linejoin="round"/>
<path d="M284.6,511.0L274.6,506.0L274.6,516.0Z" fill="none" stroke="#008000" stroke-width="2" stroke-linejoin="round"/>
<path d="M300.0,511.0L290.0,506.0L290.0,516.0Z" fill="none" stroke="#008000" stroke-width="2" stroke-linejoin="round"/>
<path d="M308.6,506.3L298.6,501.3L298.6,511.3Z" fill="none" stroke="#008000" stroke-width="2" stroke-linejoin="round"/>
<path d="M316.6,511.0L306.6,506.0L306.6,516.0Z" fill="none" stroke="#008000" stroke-width="2" stroke-linejoin="round"/>
<path d="M326.6,512.3L316.6,507.3L316.6,517.3Z" fill="none" stroke="#008000" stroke-width="2" stroke-linejoin="round"/>
<path d="M268.0,520.3L258.0,515.3L258.0,525.3Z" fill="none" stroke="#008000" stroke-width="2" stroke-linejoin="round"/>
<path d="M278.6,519.0L268.6,514.0L268.6,524.0Z" fill="none" stroke="#008000" stroke-width="2" stroke-linejoin="round"/>
<path d="M288.6,521.6L278.6,516.6L278.6,526.6Z" fill="none" stroke="#008000" stroke-width="2" stroke-linejoin="round"/>
<path d="M296.6,518.3L286.6,513.3L286.6,523.3Z" fill="none" stroke="#008000" stroke-width="2" stroke-linejoin="round"/>
<path d="M306.6,520.3L296.6,515.3L296.6,525.3Z" fill="none" stroke="#008000" stroke-width="2" stroke-linejoin="round"/>
<path d="M313.3,521.6L303.3,516.6L303.3,526.6Z" fill="none" stroke="#008000" stroke-width="2" stroke-linejoin="round"/>
<path d="M323.3,520.3L313.3,515.3L313.3,525.3Z" fill="none" stroke="#008000" stroke-width="2" stroke-linejoin="round"/>
<path d="M243.3,523.0L233.3,518.0L233.3,528.0Z" fill="none" stroke="#008000" stroke-width="2" stroke-linejoin="round"/>
<path d="M252.0,521.6L242.0,516.6L242.0,526.6Z" fill="none" stroke="#008000" stroke-width="2" stroke-linejoin="round"/>
<path d="M267.3,528.3L257.3,523.3L257.3,533.3Z" fill="none" stroke="#008000" stroke-width="2" stroke-linejoin="round"/>
<path d="M276.6,524.3L266.6,519.3L266.6,529.3Z" fill="none" stroke="#008000" stroke-width="2" stroke-linejoin="round"/>
<path d="M286.6,528.3L276.6,523.3L276.6,533.3Z" fill="none" stroke="#008000" stroke-width="2" stroke-linejoin="round"/>
<path d="M294.0,527.0L284.0,522.0L284.0,532.0Z" fill="none" stroke="#008000" stroke-width="2" stroke-linejoin="round"/>
<path d="M303.3,525.6L293.3,520.6L293.3,530.6Z" fill="none" stroke="#008000" stroke-width="2" stroke-linejoin="round"/>
<path d="M309.9,528.3L299.9,523.3L299.9,533.3Z" fill="none" stroke="#008000" stroke-width="2" stroke-linejoin="round"/>
<path d="M318.6,527.0L308.6,522.0L308.6,532.0Z" fill="none" stroke="#008000" stroke-width="2" stroke-linejoin="round"/>
<path d="M326.6,525.6L316.6,520.6L316.6,530.6Z" fill="none" stroke="#008000" stroke-width="2" stroke-linejoin="round"/>
<path d="M246.7,533.6L236.7,528.6L236.7,538.6Z" fill="none" stroke="#008000" stroke-width="2" stroke-linejoin="round"/>
<path d="M260.0,533.6L250.0,528.6L250.0,538.6Z" fill="none" stroke="#008000" stroke-width="2" stroke-linejoin="round"/>
<path d="M270.0,533.0L260.0,528.0L260.0,538.0Z" fill="none" stroke="#008000" stroke-width="2" stroke-linejoin="round"/>
<path d="M283.3,533.6L273.3,528.6L273.3,538.6Z" fill="none" stroke="#008000" stroke-width="2" stroke-linejoin="round"/>
<path d="M296.6,533.0L286.6,528.0L286.6,538.0Z" fill="none" stroke="#008000" stroke-width="2" stroke-linejoin="round"/>
<path d="M306.6,533.6L296.6,528.6L296.6,538.6Z" fill="none" stroke="#008000" stroke-width="2" stroke-linejoin="round"/>
<path d="M316.6,533.6L306.6,528.6L306.6,538.6Z" fill="none" stroke="#008000" stroke-width="2" stroke-linejoin="round"/>
<path d="M290.0,516.3L280.0,511.3L280.0,521.3Z" fill="none" stroke="#008000" stroke-width="2" stroke-linejoin="round"/>
<path d="M303.3,517.6L293.3,512.6L293.3,522.6Z" fill="none" stroke="#008000" stroke-width="2" stroke-linejoin="round"/>
<path d="M273.3,515.0L263.3,510.0L263.3,520.0Z" fill="none" stroke="#008000" stroke-width="2" stroke-linejoin="round"/>
<path d="M354.0,457.7L344.0,452.7L344.0,462.7Z" fill="none" stroke="#008000" stroke-width="2" stroke-linejoin="round"/>
<path d="M361.5,463.3L351.5,458.3L351.5,468.3Z" fill="#008000" stroke="#008000" stroke-width="2" stroke-linejoin="round"/>
<path d="M359.6,468.0L349.6,463.0L349.6,473.0Z" fill="#008000" stroke="#008000" stroke-width="2" stroke-linejoin="round"/>
<path d="M362.4,456.8L352.4,451.8L352.4,461.8Z" fill="none" stroke="#008000" stroke-width="2" stroke-linejoin="round"/>
<path d="M355.9,448.4L345.9,443.4L345.9,453.4Z" fill="none" stroke="#008000" stroke-width="2" stroke-linejoin="round"/>
<path d="M363.4,445.6L353.4,440.6L353.4,450.6Z" fill="none" stroke="#008000" stroke-width="2" stroke-linejoin="round"/>
<path d="M366.2,441.9L356.2,436.9L356.2,446.9Z" fill="none" stroke="#008000" stroke-width="2" stroke-linejoin="round"/>
<path d="M329.8,480.1L319.8,475.1L319.8,485.1Z" fill="#008000" stroke="#008000" stroke-width="2" stroke-linejoin="round"/>
<path d="M333.5,483.8L323.5,478.8L323.5,488.8Z" fill="#008000" stroke="#008000" stroke-width="2" stroke-linejoin="round"/>
<path d="M364.3,483.8L354.3,478.8L354.3,488.8Z" fill="#008000" stroke="#008000" stroke-width="2" stroke-linejoin="round"/>
<path d="M361.5,479.2L351.5,474.2L351.5,484.2Z" fill="#008000" stroke="#008000" stroke-width="2" stroke-linejoin="round"/>
<path d="M359.6,375.0L349.6,370.0L349.6,380.0Z" fill="#008000" stroke="#008000" stroke-width="2" stroke-linejoin="round"/>
<path d="M355.5,377.5L345.5,372.5L345.5,382.5Z" fill="#008000" stroke="#008000" stroke-width="2" stroke-linejoin="round"/>
<path d="M353.0,379.0L343.0,374.0L343.0,384.0Z" fill="#008000" stroke="#008000" stroke-width="2" stroke-linejoin="round"/>
<path d="M383.5,383.5L373.5,378.5L373.5,388.5Z" fill="none" stroke="#008000" stroke-width="2" stroke-linejoin="round"/>
<path d="M329.4,480.3L319.4,475.3L319.4,485.3Z" fill="none" stroke="#008000" stroke-width="2" stroke-linejoin="round"/>
<path d="M334.7,489.8L324.7,484.8L324.7,494.8Z" fill="none" stroke="#008000" stroke-width="2" stroke-linejoin="round"/>
<path d="M349.5,488.8L339.5,483.8L339.5,493.8Z" fill="none" stroke="#008000" stroke-width="2" stroke-linejoin="round"/>
<path d="M334.7,496.2L324.7,491.2L324.7,501.2Z" fill="none" stroke="#008000" stroke-width="2" stroke-linejoin="round"/>
<path d="M336.8,503.6L326.8,498.6L326.8,508.6Z" fill="none" stroke="#008000" stroke-width="2" stroke-linejoin="round"/>
<path d="M331.5,516.4L321.5,511.4L321.5,521.4Z" fill="none" stroke="#008000" stroke-width="2" stroke-linejoin="round"/>
<path d="M342.1,512.1L332.1,507.1L332.1,517.1Z" fill="#008000" stroke="#008000" stroke-width="2" stroke-linejoin="round"/>
<path d="M351.7,510.0L341.7,505.0L341.7,515.0Z" fill="none" stroke="#008000" stroke-width="2" stroke-linejoin="round"/>
<path d="M331.5,523.8L321.5,518.8L321.5,528.8Z" fill="none" stroke="#008000" stroke-width="2" stroke-linejoin="round"/>
<path d="M342.1,524.8L332.1,519.8L332.1,529.8Z" fill="none" stroke="#008000" stroke-width="2" stroke-linejoin="round"/>
<path d="M311.4,516.4L301.4,511.4L301.4,521.4Z" fill="#008000" stroke="#008000" stroke-width="2" stroke-linejoin="round"/>
<path d="M315.6,514.2L305.6,509.2L305.6,519.2Z" fill="none" stroke="#008000" stroke-width="2" stroke-linejoin="round"/>
<path d="M361.2,486.7L351.2,481.7L351.2,491.7Z" fill="#008000" stroke="#008000" stroke-width="2" stroke-linejoin="round"/>
<path d="M310.3,562.0L300.3,557.0L300.3,567.0Z" fill="#008000" stroke="#008000" stroke-width="2" stroke-linejoin="round"/>
<path d="M360.1,461.2L350.1,456.2L350.1,466.2Z" fill="#008000" stroke="#008000" stroke-width="2" stroke-linejoin="round"/>
<path d="M355.9,459.1L345.9,454.1L345.9,464.1Z" fill="#008000" stroke="#008000" stroke-width="2" stroke-linejoin="round"/>
<path d="M700.0,83.8L690.0,78.8L690.0,88.8Z" fill="none" stroke="#008000" stroke-width="2" stroke-linejoin="round"/>
<path d="M624.5,110.6L614.5,105.6L614.5,115.6Z" fill="none" stroke="#008000" stroke-width="2" stroke-linejoin="round"/>
<path d="M553.8,181.7L543.8,176.7L543.8,186.7Z" fill="#008000" stroke="#008000" stroke-width="2" stroke-linejoin="round"/>
<path d="M533.6,215.7L523.6,210.7L523.6,220.7Z" fill="none" stroke="#008000" stroke-width="2" stroke-linejoin="round"/>
<line x1="160.0" y1="587.8" x2="695.6" y2="182.3" stroke="#000" stroke-width="3.28" stroke-dasharray="12.15 5.25"/>
</g>
<rect x="83.6" y="0.8" width="645.5" height="645.8" fill="none" stroke="#000" stroke-width="1.6"/>
<text x="83.6" y="685.3" font-size="32" text-anchor="middle">0</text>
<text x="218.5" y="685.3" font-size="32" text-anchor="middle">2</text>
<text x="353.5" y="685.3" font-size="32" text-anchor="middle">4</text>
<text x="488.4" y="685.3" font-size="32" text-anchor="middle">6</text>
<text x="623.4" y="685.3" font-size="32" text-anchor="middle">8</text>
<text x="69.6" y="658.4" font-size="32" text-anchor="end">0</text>
<text x="69.6" y="523.5" font-size="32" text-anchor="end">2</text>
<text x="69.6" y="388.5" font-size="32" text-anchor="end">4</text>
<text x="69.6" y="253.6" font-size="32" text-anchor="end">6</text>
<text x="69.6" y="118.6" font-size="32" text-anchor="end">8</text>
<path d="M83.6,646.6v7M218.5,646.6v7M353.5,646.6v7M488.4,646.6v7M623.4,646.6v7M83.6,646.6h-7M83.6,511.7h-7M83.6,376.7h-7M83.6,241.8h-7M83.6,106.8h-7" stroke="#000" stroke-width="1.6"/>
<text x="406.4" y="723.6" font-size="32" letter-spacing="-0.6" text-anchor="middle">foEs [MHz]</text>
<text transform="translate(33.1,323.7) rotate(-90)" x="0" y="0" font-size="32" letter-spacing="-0.6" text-anchor="middle">fo<tspan font-style="italic">μ</tspan>Es [MHz]</text>
<line x1="103.4" y1="49.7" x2="147.4" y2="49.7" stroke="#000" stroke-width="3.28" stroke-dasharray="12.15 5.25"/>
<text x="165.1" y="37.3" font-size="22" letter-spacing="-0.1">fo<tspan font-style="italic">μ</tspan>Es=0.76×foEs+0.01</text>
<text x="165.1" y="68.7" font-size="22" letter-spacing="-0.1">R<tspan dy="-8.3" font-size="15.4">2</tspan><tspan dy="8.3">=0.62; </tspan><tspan font-style="italic">ρ</tspan>=0.63; p-val=0.00</text>
</g>
<g id="TR">
<clipPath id="cTR"><rect x="854.5" y="0.8" width="645.7" height="645.8000000000001"/></clipPath>
<g clip-path="url(#cTR)">
<circle cx="1426.9" cy="123.1" r="5.1" fill="none" stroke="#ff0000" stroke-width="2"/>
<circle cx="1444.1" cy="144.8" r="5.1" fill="none" stroke="#ff0000" stroke-width="2"/>
<circle cx="1437.4" cy="188.1" r="5.1" fill="none" stroke="#ff0000" stroke-width="2"/>
<circle cx="1449.3" cy="184.7" r="5.1" fill="none" stroke="#ff0000" stroke-width="2"/>
<circle cx="1390.7" cy="191.4" r="5.1" fill="none" stroke="#ff0000" stroke-width="2"/>
<circle cx="1399.0" cy="205.6" r="5.1" fill="none" stroke="#ff0000" stroke-width="2"/>
<circle cx="1399.0" cy="211.9" r="5.1" fill="none" stroke="#ff0000" stroke-width="2"/>
<circle cx="1392.6" cy="217.5" r="5.1" fill="none" stroke="#ff0000" stroke-width="2"/>
<circle cx="1277.7" cy="257.8" r="5.1" fill="none" stroke="#ff0000" stroke-width="2"/>
<circle cx="1363.5" cy="257.5" r="5.1" fill="none" stroke="#ff0000" stroke-width="2"/>
<circle cx="1343.4" cy="267.5" r="5.1" fill="none" stroke="#ff0000" stroke-width="2"/>
<circle cx="1328.4" cy="281.7" r="5.1" fill="none" stroke="#ff0000" stroke-width="2"/>
<circle cx="1313.1" cy="293.3" r="5.1" fill="none" stroke="#ff0000" stroke-width="2"/>
<circle cx="1317.2" cy="303.4" r="5.1" fill="none" stroke="#ff0000" stroke-width="2"/>
<circle cx="1313.1" cy="311.6" r="5.1" fill="none" stroke="#ff0000" stroke-width="2"/>
<circle cx="1343.4" cy="304.1" r="5.1" fill="none" stroke="#ff0000" stroke-width="2"/>
<circle cx="1240.7" cy="294.4" r="5.1" fill="none" stroke="#ff0000" stroke-width="2"/>
<circle cx="1247.5" cy="339.9" r="5.1" fill="none" stroke="#ff0000" stroke-width="2"/>
<circle cx="1263.1" cy="341.0" r="5.1" fill="none" stroke="#ff0000" stroke-width="2"/>
<circle cx="1305.3" cy="347.4" r="5.1" fill="none" stroke="#ff0000" stroke-width="2"/>
<circle cx="1331.0" cy="339.9" r="5.1" fill="none" stroke="#ff0000" stroke-width="2"/>
<circle cx="1232.9" cy="361.6" r="5.1" fill="none" stroke="#ff0000" stroke-width="2"/>
<circle cx="1252.7" cy="363.4" r="5.1" fill="none" stroke="#ff0000" stroke-width="2"/>
<circle cx="1277.7" cy="372.0" r="5.1" fill="none" stroke="#ff0000" stroke-width="2"/>
<circle cx="1215.4" cy="379.5" r="5.1" fill="none" stroke="#ff0000" stroke-width="2"/>
<circle cx="1232.9" cy="379.9" r="5.1" fill="none" stroke="#ff0000" stroke-width="2"/>
<circle cx="1252.7" cy="379.1" r="5.1" fill="none" stroke="#ff0000" stroke-width="2"/>
<circle cx="1246.0" cy="392.5" r="5.1" fill="none" stroke="#ff0000" stroke-width="2"/>
<circle cx="1257.5" cy="393.7" r="5.1" fill="none" stroke="#ff0000" stroke-width="2"/>
<circle cx="1303.1" cy="387.3" r="5.1" fill="none" stroke="#ff0000" stroke-width="2"/>
<circle cx="1308.7" cy="387.3" r="5.1" fill="none" stroke="#ff0000" stroke-width="2"/>
<circle cx="1279.9" cy="400.7" r="5.1" fill="none" stroke="#ff0000" stroke-width="2"/>
<circle cx="1220.6" cy="406.0" r="5.1" fill="none" stroke="#ff0000" stroke-width="2"/>
<circle cx="1235.5" cy="410.1" r="5.1" fill="none" stroke="#ff0000" stroke-width="2"/>
<circle cx="1207.2" cy="418.7" r="5.1" fill="none" stroke="#ff0000" stroke-width="2"/>
<circle cx="1215.4" cy="430.6" r="5.1" fill="none" stroke="#ff0000" stroke-width="2"/>
<circle cx="1212.4" cy="439.9" r="5.1" fill="none" stroke="#ff0000" stroke-width="2"/>
<circle cx="1254.9" cy="429.1" r="5.1" fill="none" stroke="#ff0000" stroke-width="2"/>
<circle cx="1245.2" cy="438.8" r="5.1" fill="none" stroke="#ff0000" stroke-width="2"/>
<circle cx="1167.6" cy="353.0" r="5.1" fill="none" stroke="#ff0000" stroke-width="2"/>
<circle cx="1141.9" cy="400.4" r="5.1" fill="none" stroke="#ff0000" stroke-width="2"/>
<circle cx="1151.9" cy="397.0" r="5.1" fill="none" stroke="#ff0000" stroke-width="2"/>
<circle cx="1166.9" cy="400.4" r="5.1" fill="none" stroke="#ff0000" stroke-width="2"/>
<circle cx="1162.4" cy="404.9" r="5.1" fill="none" stroke="#ff0000" stroke-width="2"/>
<circle cx="1147.1" cy="410.4" r="5.1" fill="none" stroke="#ff0000" stroke-width="2"/>
<circle cx="1174.3" cy="431.7" r="5.1" fill="none" stroke="#ff0000" stroke-width="2"/>
<circle cx="1166.9" cy="436.2" r="5.1" fill="none" stroke="#ff0000" stroke-width="2"/>
<circle cx="1162.0" cy="445.9" r="5.1" fill="none" stroke="#ff0000" stroke-width="2"/>
<circle cx="1136.6" cy="451.1" r="5.1" fill="none" stroke="#ff0000" stroke-width="2"/>
<circle cx="1136.6" cy="468.3" r="5.1" fill="none" stroke="#ff0000" stroke-width="2"/>
<circle cx="1162.0" cy="460.4" r="5.1" fill="none" stroke="#ff0000" stroke-width="2"/>
<circle cx="1174.3" cy="458.6" r="5.1" fill="none" stroke="#ff0000" stroke-width="2"/>
<circle cx="1182.5" cy="460.4" r="5.1" fill="none" stroke="#ff0000" stroke-width="2"/>
<circle cx="1192.2" cy="452.2" r="5.1" fill="none" stroke="#ff0000" stroke-width="2"/>
<circle cx="1192.2" cy="460.1" r="5.1" fill="none" stroke="#ff0000" stroke-width="2"/>
<circle cx="1210.1" cy="460.4" r="5.1" fill="none" stroke="#ff0000" stroke-width="2"/>
<circle cx="1218.0" cy="454.9" r="5.1" fill="none" stroke="#ff0000" stroke-width="2"/>
<circle cx="1212.4" cy="468.3" r="5.1" fill="none" stroke="#ff0000" stroke-width="2"/>
<circle cx="1228.4" cy="462.3" r="5.1" fill="none" stroke="#ff0000" stroke-width="2"/>
<circle cx="1232.9" cy="460.4" r="5.1" fill="none" stroke="#ff0000" stroke-width="2"/>
<circle cx="1237.4" cy="472.0" r="5.1" fill="none" stroke="#ff0000" stroke-width="2"/>
<circle cx="1275.8" cy="462.7" r="5.1" fill="none" stroke="#ff0000" stroke-width="2"/>
<circle cx="1176.9" cy="488.4" r="5.1" fill="none" stroke="#ff0000" stroke-width="2"/>
<circle cx="1176.9" cy="493.7" r="5.1" fill="none" stroke="#ff0000" stroke-width="2"/>
<circle cx="1174.3" cy="497.8" r="5.1" fill="none" stroke="#ff0000" stroke-width="2"/>
<circle cx="1157.2" cy="495.5" r="5.1" fill="none" stroke="#ff0000" stroke-width="2"/>
<circle cx="1175.8" cy="511.6" r="5.1" fill="none" stroke="#ff0000" stroke-width="2"/>
<circle cx="1167.6" cy="539.6" r="5.1" fill="none" stroke="#ff0000" stroke-width="2"/>
<circle cx="1287.8" cy="213.8" r="5.1" fill="#ff0000" stroke="#ff0000" stroke-width="2"/>
<circle cx="1287.8" cy="220.1" r="5.1" fill="#ff0000" stroke="#ff0000" stroke-width="2"/>
<circle cx="1262.8" cy="240.3" r="5.1" fill="#ff0000" stroke="#ff0000" stroke-width="2"/>
<circle cx="1217.2" cy="286.6" r="5.1" fill="#ff0000" stroke="#ff0000" stroke-width="2"/>
<circle cx="1192.6" cy="315.3" r="5.1" fill="#ff0000" stroke="#ff0000" stroke-width="2"/>
<circle cx="1147.1" cy="355.2" r="5.1" fill="#ff0000" stroke="#ff0000" stroke-width="2"/>
<circle cx="1152.7" cy="350.0" r="5.1" fill="#ff0000" stroke="#ff0000" stroke-width="2"/>
<circle cx="1158.3" cy="347.8" r="5.1" fill="#ff0000" stroke="#ff0000" stroke-width="2"/>
<circle cx="1163.1" cy="346.3" r="5.1" fill="#ff0000" stroke="#ff0000" stroke-width="2"/>
<circle cx="1167.6" cy="346.3" r="5.1" fill="#ff0000" stroke="#ff0000" stroke-width="2"/>
<circle cx="1122.1" cy="383.6" r="5.1" fill="#ff0000" stroke="#ff0000" stroke-width="2"/>
<circle cx="1111.9" cy="393.8" r="5.1" fill="#ff0000" stroke="#ff0000" stroke-width="2"/>
<circle cx="1101.7" cy="403.4" r="5.1" fill="#ff0000" stroke="#ff0000" stroke-width="2"/>
<circle cx="1098.7" cy="405.8" r="5.1" fill="#ff0000" stroke="#ff0000" stroke-width="2"/>
<circle cx="1095.7" cy="408.2" r="5.1" fill="#ff0000" stroke="#ff0000" stroke-width="2"/>
<circle cx="1092.1" cy="411.2" r="5.1" fill="#ff0000" stroke="#ff0000" stroke-width="2"/>
<circle cx="1089.7" cy="414.2" r="5.1" fill="#ff0000" stroke="#ff0000" stroke-width="2"/>
<circle cx="1086.7" cy="418.4" r="5.1" fill="#ff0000" stroke="#ff0000" stroke-width="2"/>
<circle cx="1083.1" cy="422.0" r="5.1" fill="#ff0000" stroke="#ff0000" stroke-width="2"/>
<circle cx="1079.5" cy="425.0" r="5.1" fill="#ff0000" stroke="#ff0000" stroke-width="2"/>
<circle cx="1077.1" cy="428.0" r="5.1" fill="#ff0000" stroke="#ff0000" stroke-width="2"/>
<circle cx="1077.1" cy="435.8" r="5.1" fill="#ff0000" stroke="#ff0000" stroke-width="2"/>
<circle cx="1065.7" cy="436.4" r="5.1" fill="#ff0000" stroke="#ff0000" stroke-width="2"/>
<circle cx="1062.7" cy="440.0" r="5.1" fill="#ff0000" stroke="#ff0000" stroke-width="2"/>
<circle cx="1059.1" cy="443.0" r="5.1" fill="#ff0000" stroke="#ff0000" stroke-width="2"/>
<circle cx="1055.5" cy="447.2" r="5.1" fill="#ff0000" stroke="#ff0000" stroke-width="2"/>
<circle cx="1050.7" cy="450.8" r="5.1" fill="#ff0000" stroke="#ff0000" stroke-width="2"/>
<circle cx="1048.3" cy="453.2" r="5.1" fill="#ff0000" stroke="#ff0000" stroke-width="2"/>
<circle cx="1044.7" cy="456.7" r="5.1" fill="#ff0000" stroke="#ff0000" stroke-width="2"/>
<circle cx="1041.1" cy="459.1" r="5.1" fill="#ff0000" stroke="#ff0000" stroke-width="2"/>
<circle cx="1037.5" cy="462.7" r="5.1" fill="#ff0000" stroke="#ff0000" stroke-width="2"/>
<circle cx="1035.1" cy="466.3" r="5.1" fill="#ff0000" stroke="#ff0000" stroke-width="2"/>
<circle cx="1041.1" cy="471.1" r="5.1" fill="#ff0000" stroke="#ff0000" stroke-width="2"/>
<circle cx="1061.5" cy="459.7" r="5.1" fill="#ff0000" stroke="#ff0000" stroke-width="2"/>
<circle cx="1056.1" cy="471.7" r="5.1" fill="#ff0000" stroke="#ff0000" stroke-width="2"/>
<circle cx="1081.3" cy="451.4" r="5.1" fill="#ff0000" stroke="#ff0000" stroke-width="2"/>
<circle cx="1029.1" cy="471.1" r="5.1" fill="#ff0000" stroke="#ff0000" stroke-width="2"/>
<circle cx="1025.5" cy="475.9" r="5.1" fill="#ff0000" stroke="#ff0000" stroke-width="2"/>
<circle cx="1022.0" cy="479.5" r="5.1" fill="#ff0000" stroke="#ff0000" stroke-width="2"/>
<circle cx="1018.4" cy="484.3" r="5.1" fill="#ff0000" stroke="#ff0000" stroke-width="2"/>
<circle cx="1015.4" cy="487.9" r="5.1" fill="#ff0000" stroke="#ff0000" stroke-width="2"/>
<circle cx="1013.6" cy="492.7" r="5.1" fill="#ff0000" stroke="#ff0000" stroke-width="2"/>
<circle cx="1013.6" cy="498.7" r="5.1" fill="#ff0000" stroke="#ff0000" stroke-width="2"/>
<circle cx="1019.6" cy="490.3" r="5.1" fill="#ff0000" stroke="#ff0000" stroke-width="2"/>
<circle cx="1025.5" cy="495.1" r="5.1" fill="#ff0000" stroke="#ff0000" stroke-width="2"/>
<circle cx="1026.7" cy="498.7" r="5.1" fill="#ff0000" stroke="#ff0000" stroke-width="2"/>
<circle cx="1033.9" cy="483.1" r="5.1" fill="#ff0000" stroke="#ff0000" stroke-width="2"/>
<circle cx="1036.3" cy="489.1" r="5.1" fill="#ff0000" stroke="#ff0000" stroke-width="2"/>
<circle cx="1038.7" cy="495.1" r="5.1" fill="#ff0000" stroke="#ff0000" stroke-width="2"/>
<circle cx="1039.9" cy="501.1" r="5.1" fill="#ff0000" stroke="#ff0000" stroke-width="2"/>
<circle cx="1032.7" cy="497.5" r="5.1" fill="#ff0000" stroke="#ff0000" stroke-width="2"/>
<circle cx="1071.1" cy="431.6" r="5.1" fill="#ff0000" stroke="#ff0000" stroke-width="2"/>
<circle cx="1068.7" cy="434.0" r="5.1" fill="#ff0000" stroke="#ff0000" stroke-width="2"/>
<circle cx="1026.7" cy="486.7" r="5.1" fill="#ff0000" stroke="#ff0000" stroke-width="2"/>
<circle cx="1022.0" cy="485.5" r="5.1" fill="#ff0000" stroke="#ff0000" stroke-width="2"/>
<circle cx="1031.5" cy="491.5" r="5.1" fill="#ff0000" stroke="#ff0000" stroke-width="2"/>
<circle cx="1123.9" cy="411.8" r="5.1" fill="none" stroke="#ff0000" stroke-width="2"/>
<circle cx="1106.5" cy="438.2" r="5.1" fill="none" stroke="#ff0000" stroke-width="2"/>
<circle cx="1091.5" cy="445.4" r="5.1" fill="none" stroke="#ff0000" stroke-width="2"/>
<circle cx="1102.3" cy="456.1" r="5.1" fill="none" stroke="#ff0000" stroke-width="2"/>
<circle cx="1126.3" cy="453.7" r="5.1" fill="none" stroke="#ff0000" stroke-width="2"/>
<circle cx="1081.3" cy="465.7" r="5.1" fill="none" stroke="#ff0000" stroke-width="2"/>
<circle cx="1065.7" cy="490.3" r="5.1" fill="none" stroke="#ff0000" stroke-width="2"/>
<circle cx="1076.5" cy="489.7" r="5.1" fill="none" stroke="#ff0000" stroke-width="2"/>
<circle cx="1101.7" cy="481.3" r="5.1" fill="none" stroke="#ff0000" stroke-width="2"/>
<circle cx="1107.1" cy="489.7" r="5.1" fill="none" stroke="#ff0000" stroke-width="2"/>
<circle cx="1101.7" cy="498.1" r="5.1" fill="none" stroke="#ff0000" stroke-width="2"/>
<circle cx="1101.7" cy="505.9" r="5.1" fill="none" stroke="#ff0000" stroke-width="2"/>
<circle cx="1050.7" cy="501.1" r="5.1" fill="none" stroke="#ff0000" stroke-width="2"/>
<circle cx="1056.1" cy="499.3" r="5.1" fill="none" stroke="#ff0000" stroke-width="2"/>
<circle cx="1060.9" cy="505.9" r="5.1" fill="none" stroke="#ff0000" stroke-width="2"/>
<circle cx="1041.1" cy="517.9" r="5.1" fill="none" stroke="#ff0000" stroke-width="2"/>
<circle cx="1041.1" cy="525.1" r="5.1" fill="none" stroke="#ff0000" stroke-width="2"/>
<circle cx="1091.5" cy="518.5" r="5.1" fill="none" stroke="#ff0000" stroke-width="2"/>
<circle cx="1089.1" cy="526.9" r="5.1" fill="none" stroke="#ff0000" stroke-width="2"/>
<circle cx="1096.3" cy="534.1" r="5.1" fill="none" stroke="#ff0000" stroke-width="2"/>
<circle cx="1114.3" cy="535.9" r="5.1" fill="none" stroke="#ff0000" stroke-width="2"/>
<circle cx="1121.5" cy="534.7" r="5.1" fill="none" stroke="#ff0000" stroke-width="2"/>
<circle cx="970.4" cy="538.0" r="5.1" fill="#ff0000" stroke="#ff0000" stroke-width="2"/>
<circle cx="975.6" cy="536.0" r="5.1" fill="#ff0000" stroke="#ff0000" stroke-width="2"/>
<circle cx="980.4" cy="530.4" r="5.1" fill="#ff0000" stroke="#ff0000" stroke-width="2"/>
<circle cx="986.0" cy="520.8" r="5.1" fill="#ff0000" stroke="#ff0000" stroke-width="2"/>
<circle cx="993.5" cy="514.4" r="5.1" fill="#ff0000" stroke="#ff0000" stroke-width="2"/>
<circle cx="989.2" cy="521.6" r="5.1" fill="#ff0000" stroke="#ff0000" stroke-width="2"/>
<circle cx="1099.8" cy="456.2" r="5.1" fill="none" stroke="#ff0000" stroke-width="2"/>
<line x1="970.7" y1="527.9" x2="1450.0" y2="233.4" stroke="#000" stroke-width="3.28" stroke-dasharray="12.15 5.25"/>
</g>
<rect x="854.5" y="0.8" width="645.7" height="645.8" fill="none" stroke="#000" stroke-width="1.6"/>
<text x="854.5" y="685.3" font-size="32" text-anchor="middle">0</text>
<text x="955.4" y="685.3" font-size="32" text-anchor="middle">1</text>
<text x="1056.3" y="685.3" font-size="32" text-anchor="middle">2</text>
<text x="1157.1" y="685.3" font-size="32" text-anchor="middle">3</text>
<text x="1258.0" y="685.3" font-size="32" text-anchor="middle">4</text>
<text x="1358.9" y="685.3" font-size="32" text-anchor="middle">5</text>
<text x="1459.8" y="685.3" font-size="32" text-anchor="middle">6</text>
<text x="840.5" y="658.4" font-size="32" text-anchor="end">0</text>
<text x="840.5" y="557.5" font-size="32" text-anchor="end">1</text>
<text x="840.5" y="456.6" font-size="32" text-anchor="end">2</text>
<text x="840.5" y="355.8" font-size="32" text-anchor="end">3</text>
<text x="840.5" y="254.9" font-size="32" text-anchor="end">4</text>
<text x="840.5" y="154.0" font-size="32" text-anchor="end">5</text>
<text x="840.5" y="53.1" font-size="32" text-anchor="end">6</text>
<path d="M854.5,646.6v7M955.4,646.6v7M1056.3,646.6v7M1157.1,646.6v7M1258.0,646.6v7M1358.9,646.6v7M1459.8,646.6v7M854.5,646.6h-7M854.5,545.7h-7M854.5,444.8h-7M854.5,344.0h-7M854.5,243.1h-7M854.5,142.2h-7M854.5,41.3h-7" stroke="#000" stroke-width="1.6"/>
<text x="1177.3" y="723.6" font-size="32" letter-spacing="-0.6" text-anchor="middle">fbEs [MHz]</text>
<text transform="translate(804.0,323.7) rotate(-90)" x="0" y="0" font-size="32" letter-spacing="-0.6" text-anchor="middle">fb<tspan font-style="italic">μ</tspan>Es [MHz]</text>
<line x1="1095" y1="49" x2="1139" y2="49" stroke="#000" stroke-width="3.28" stroke-dasharray="12.15 5.25"/>
<text x="1157" y="37.3" font-size="22" letter-spacing="-0.1">fb<tspan font-style="italic">μ</tspan>Es=0.62×fbEs+0.46</text>
<text x="1157" y="68.7" font-size="22" letter-spacing="-0.1">R<tspan dy="-8.3" font-size="15.4">2</tspan><tspan dy="8.3">=0.67; </tspan><tspan font-style="italic">ρ</tspan>=0.73; p-val=0.00</text>
</g>
<g id="BL">
<clipPath id="cBL"><rect x="83.6" y="775.7" width="645.6999999999999" height="645.3999999999999"/></clipPath>
<g clip-path="url(#cBL)">
<polygon points="192.1,1308.2 193.2,1311.7 196.9,1311.7 193.9,1313.8 195.0,1317.2 192.1,1315.1 189.2,1317.2 190.3,1313.8 187.3,1311.7 191.0,1311.7" fill="none" stroke="#0000ff" stroke-width="2" stroke-linejoin="round"/>
<polygon points="197.2,1311.7 198.3,1315.2 202.0,1315.2 199.0,1317.3 200.1,1320.7 197.2,1318.6 194.3,1320.7 195.4,1317.3 192.4,1315.2 196.1,1315.2" fill="#0000ff" stroke="#0000ff" stroke-width="2" stroke-linejoin="round"/>
<polygon points="205.8,1295.3 206.9,1298.8 210.6,1298.8 207.6,1300.9 208.7,1304.3 205.8,1302.2 202.9,1304.3 204.0,1300.9 201.0,1298.8 204.7,1298.8" fill="none" stroke="#0000ff" stroke-width="2" stroke-linejoin="round"/>
<polygon points="210.1,1306.5 211.2,1310.0 214.9,1310.0 211.9,1312.1 213.0,1315.5 210.1,1313.4 207.2,1315.5 208.3,1312.1 205.3,1310.0 209.0,1310.0" fill="none" stroke="#0000ff" stroke-width="2" stroke-linejoin="round"/>
<polygon points="247.2,1302.2 248.3,1305.7 252.0,1305.7 249.0,1307.8 250.1,1311.2 247.2,1309.1 244.3,1311.2 245.4,1307.8 242.4,1305.7 246.1,1305.7" fill="#0000ff" stroke="#0000ff" stroke-width="2" stroke-linejoin="round"/>
<polygon points="231.7,1277.2 232.8,1280.7 236.5,1280.7 233.5,1282.8 234.6,1286.2 231.7,1284.1 228.8,1286.2 229.9,1282.8 226.9,1280.7 230.6,1280.7" fill="none" stroke="#0000ff" stroke-width="2" stroke-linejoin="round"/>
<polygon points="236.8,1266.9 237.9,1270.4 241.6,1270.4 238.6,1272.5 239.7,1275.9 236.8,1273.8 233.9,1275.9 235.0,1272.5 232.0,1270.4 235.7,1270.4" fill="#0000ff" stroke="#0000ff" stroke-width="2" stroke-linejoin="round"/>
<polygon points="235.1,1263.4 236.2,1266.9 239.9,1266.9 236.9,1269.0 238.0,1272.4 235.1,1270.3 232.2,1272.4 233.3,1269.0 230.3,1266.9 234.0,1266.9" fill="none" stroke="#0000ff" stroke-width="2" stroke-linejoin="round"/>
<polygon points="248.9,1258.3 250.0,1261.8 253.7,1261.8 250.7,1263.9 251.8,1267.3 248.9,1265.2 246.0,1267.3 247.1,1263.9 244.1,1261.8 247.8,1261.8" fill="none" stroke="#0000ff" stroke-width="2" stroke-linejoin="round"/>
<polygon points="248.9,1275.5 250.0,1279.0 253.7,1279.0 250.7,1281.1 251.8,1284.5 248.9,1282.4 246.0,1284.5 247.1,1281.1 244.1,1279.0 247.8,1279.0" fill="#0000ff" stroke="#0000ff" stroke-width="2" stroke-linejoin="round"/>
<polygon points="259.2,1277.2 260.3,1280.7 264.0,1280.7 261.0,1282.8 262.1,1286.2 259.2,1284.1 256.3,1286.2 257.4,1282.8 254.4,1280.7 258.1,1280.7" fill="none" stroke="#0000ff" stroke-width="2" stroke-linejoin="round"/>
<polygon points="243.7,1268.6 244.8,1272.1 248.5,1272.1 245.5,1274.2 246.6,1277.6 243.7,1275.5 240.8,1277.6 241.9,1274.2 238.9,1272.1 242.6,1272.1" fill="#0000ff" stroke="#0000ff" stroke-width="2" stroke-linejoin="round"/>
<polygon points="255.8,1244.5 256.9,1248.0 260.6,1248.0 257.6,1250.1 258.7,1253.5 255.8,1251.4 252.9,1253.5 254.0,1250.1 251.0,1248.0 254.7,1248.0" fill="none" stroke="#0000ff" stroke-width="2" stroke-linejoin="round"/>
<polygon points="266.1,1239.3 267.2,1242.8 270.9,1242.8 267.9,1244.9 269.0,1248.3 266.1,1246.2 263.2,1248.3 264.3,1244.9 261.3,1242.8 265.0,1242.8" fill="#0000ff" stroke="#0000ff" stroke-width="2" stroke-linejoin="round"/>
<polygon points="262.7,1249.7 263.8,1253.2 267.5,1253.2 264.5,1255.3 265.6,1258.7 262.7,1256.6 259.8,1258.7 260.9,1255.3 257.9,1253.2 261.6,1253.2" fill="#0000ff" stroke="#0000ff" stroke-width="2" stroke-linejoin="round"/>
<polygon points="267.9,1258.3 269.0,1261.8 272.7,1261.8 269.7,1263.9 270.8,1267.3 267.9,1265.2 265.0,1267.3 266.1,1263.9 263.1,1261.8 266.8,1261.8" fill="#0000ff" stroke="#0000ff" stroke-width="2" stroke-linejoin="round"/>
<polygon points="273.0,1261.7 274.1,1265.2 277.8,1265.2 274.8,1267.3 275.9,1270.7 273.0,1268.6 270.1,1270.7 271.2,1267.3 268.2,1265.2 271.9,1265.2" fill="#0000ff" stroke="#0000ff" stroke-width="2" stroke-linejoin="round"/>
<polygon points="271.3,1270.3 272.4,1273.8 276.1,1273.8 273.1,1275.9 274.2,1279.3 271.3,1277.2 268.4,1279.3 269.5,1275.9 266.5,1273.8 270.2,1273.8" fill="#0000ff" stroke="#0000ff" stroke-width="2" stroke-linejoin="round"/>
<polygon points="261.0,1263.4 262.1,1266.9 265.8,1266.9 262.8,1269.0 263.9,1272.4 261.0,1270.3 258.1,1272.4 259.2,1269.0 256.2,1266.9 259.9,1266.9" fill="none" stroke="#0000ff" stroke-width="2" stroke-linejoin="round"/>
<polygon points="266.1,1266.9 267.2,1270.4 270.9,1270.4 267.9,1272.5 269.0,1275.9 266.1,1273.8 263.2,1275.9 264.3,1272.5 261.3,1270.4 265.0,1270.4" fill="#0000ff" stroke="#0000ff" stroke-width="2" stroke-linejoin="round"/>
<polygon points="278.2,1232.4 279.3,1235.9 283.0,1235.9 280.0,1238.0 281.1,1241.4 278.2,1239.3 275.3,1241.4 276.4,1238.0 273.4,1235.9 277.1,1235.9" fill="#0000ff" stroke="#0000ff" stroke-width="2" stroke-linejoin="round"/>
<polygon points="283.4,1222.1 284.5,1225.6 288.2,1225.6 285.2,1227.7 286.3,1231.1 283.4,1229.0 280.5,1231.1 281.6,1227.7 278.6,1225.6 282.3,1225.6" fill="none" stroke="#0000ff" stroke-width="2" stroke-linejoin="round"/>
<polygon points="288.5,1218.7 289.6,1222.2 293.3,1222.2 290.3,1224.3 291.4,1227.7 288.5,1225.6 285.6,1227.7 286.7,1224.3 283.7,1222.2 287.4,1222.2" fill="#0000ff" stroke="#0000ff" stroke-width="2" stroke-linejoin="round"/>
<polygon points="292.0,1225.5 293.1,1229.0 296.8,1229.0 293.8,1231.1 294.9,1234.5 292.0,1232.4 289.1,1234.5 290.2,1231.1 287.2,1229.0 290.9,1229.0" fill="none" stroke="#0000ff" stroke-width="2" stroke-linejoin="round"/>
<polygon points="285.1,1244.5 286.2,1248.0 289.9,1248.0 286.9,1250.1 288.0,1253.5 285.1,1251.4 282.2,1253.5 283.3,1250.1 280.3,1248.0 284.0,1248.0" fill="#0000ff" stroke="#0000ff" stroke-width="2" stroke-linejoin="round"/>
<polygon points="292.0,1253.1 293.1,1256.6 296.8,1256.6 293.8,1258.7 294.9,1262.1 292.0,1260.0 289.1,1262.1 290.2,1258.7 287.2,1256.6 290.9,1256.6" fill="#0000ff" stroke="#0000ff" stroke-width="2" stroke-linejoin="round"/>
<polygon points="300.6,1235.9 301.7,1239.4 305.4,1239.4 302.4,1241.5 303.5,1244.9 300.6,1242.8 297.7,1244.9 298.8,1241.5 295.8,1239.4 299.5,1239.4" fill="none" stroke="#0000ff" stroke-width="2" stroke-linejoin="round"/>
<polygon points="305.8,1236.7 306.9,1240.2 310.6,1240.2 307.6,1242.3 308.7,1245.7 305.8,1243.6 302.9,1245.7 304.0,1242.3 301.0,1240.2 304.7,1240.2" fill="none" stroke="#0000ff" stroke-width="2" stroke-linejoin="round"/>
<polygon points="297.1,1246.2 298.2,1249.7 301.9,1249.7 298.9,1251.8 300.0,1255.2 297.1,1253.1 294.2,1255.2 295.3,1251.8 292.3,1249.7 296.0,1249.7" fill="none" stroke="#0000ff" stroke-width="2" stroke-linejoin="round"/>
<polygon points="302.3,1256.6 303.4,1260.1 307.1,1260.1 304.1,1262.2 305.2,1265.6 302.3,1263.5 299.4,1265.6 300.5,1262.2 297.5,1260.1 301.2,1260.1" fill="none" stroke="#0000ff" stroke-width="2" stroke-linejoin="round"/>
<polygon points="309.2,1251.4 310.3,1254.9 314.0,1254.9 311.0,1257.0 312.1,1260.4 309.2,1258.3 306.3,1260.4 307.4,1257.0 304.4,1254.9 308.1,1254.9" fill="none" stroke="#0000ff" stroke-width="2" stroke-linejoin="round"/>
<polygon points="292.0,1237.6 293.1,1241.1 296.8,1241.1 293.8,1243.2 294.9,1246.6 292.0,1244.5 289.1,1246.6 290.2,1243.2 287.2,1241.1 290.9,1241.1" fill="#0000ff" stroke="#0000ff" stroke-width="2" stroke-linejoin="round"/>
<polygon points="300.6,1201.4 301.7,1204.9 305.4,1204.9 302.4,1207.0 303.5,1210.4 300.6,1208.3 297.7,1210.4 298.8,1207.0 295.8,1204.9 299.5,1204.9" fill="none" stroke="#0000ff" stroke-width="2" stroke-linejoin="round"/>
<polygon points="305.8,1204.9 306.9,1208.4 310.6,1208.4 307.6,1210.5 308.7,1213.9 305.8,1211.8 302.9,1213.9 304.0,1210.5 301.0,1208.4 304.7,1208.4" fill="#0000ff" stroke="#0000ff" stroke-width="2" stroke-linejoin="round"/>
<polygon points="314.4,1201.4 315.5,1204.9 319.2,1204.9 316.2,1207.0 317.3,1210.4 314.4,1208.3 311.5,1210.4 312.6,1207.0 309.6,1204.9 313.3,1204.9" fill="none" stroke="#0000ff" stroke-width="2" stroke-linejoin="round"/>
<polygon points="309.2,1213.5 310.3,1217.0 314.0,1217.0 311.0,1219.1 312.1,1222.5 309.2,1220.4 306.3,1222.5 307.4,1219.1 304.4,1217.0 308.1,1217.0" fill="#0000ff" stroke="#0000ff" stroke-width="2" stroke-linejoin="round"/>
<polygon points="312.6,1220.4 313.7,1223.9 317.4,1223.9 314.4,1226.0 315.5,1229.4 312.6,1227.3 309.7,1229.4 310.8,1226.0 307.8,1223.9 311.5,1223.9" fill="#0000ff" stroke="#0000ff" stroke-width="2" stroke-linejoin="round"/>
<polygon points="321.3,1216.9 322.4,1220.4 326.1,1220.4 323.1,1222.5 324.2,1225.9 321.3,1223.8 318.4,1225.9 319.5,1222.5 316.5,1220.4 320.2,1220.4" fill="#0000ff" stroke="#0000ff" stroke-width="2" stroke-linejoin="round"/>
<polygon points="323.0,1211.8 324.1,1215.3 327.8,1215.3 324.8,1217.4 325.9,1220.8 323.0,1218.7 320.1,1220.8 321.2,1217.4 318.2,1215.3 321.9,1215.3" fill="none" stroke="#0000ff" stroke-width="2" stroke-linejoin="round"/>
<polygon points="298.9,1206.6 300.0,1210.1 303.7,1210.1 300.7,1212.2 301.8,1215.6 298.9,1213.5 296.0,1215.6 297.1,1212.2 294.1,1210.1 297.8,1210.1" fill="none" stroke="#0000ff" stroke-width="2" stroke-linejoin="round"/>
<polygon points="319.5,1184.2 320.6,1187.7 324.3,1187.7 321.3,1189.8 322.4,1193.2 319.5,1191.1 316.6,1193.2 317.7,1189.8 314.7,1187.7 318.4,1187.7" fill="none" stroke="#0000ff" stroke-width="2" stroke-linejoin="round"/>
<polygon points="314.4,1191.1 315.5,1194.6 319.2,1194.6 316.2,1196.7 317.3,1200.1 314.4,1198.0 311.5,1200.1 312.6,1196.7 309.6,1194.6 313.3,1194.6" fill="none" stroke="#0000ff" stroke-width="2" stroke-linejoin="round"/>
<polygon points="326.4,1192.8 327.5,1196.3 331.2,1196.3 328.2,1198.4 329.3,1201.8 326.4,1199.7 323.5,1201.8 324.6,1198.4 321.6,1196.3 325.3,1196.3" fill="#0000ff" stroke="#0000ff" stroke-width="2" stroke-linejoin="round"/>
<polygon points="336.8,1180.8 337.9,1184.3 341.6,1184.3 338.6,1186.4 339.7,1189.8 336.8,1187.7 333.9,1189.8 335.0,1186.4 332.0,1184.3 335.7,1184.3" fill="none" stroke="#0000ff" stroke-width="2" stroke-linejoin="round"/>
<polygon points="340.2,1172.1 341.3,1175.6 345.0,1175.6 342.0,1177.7 343.1,1181.1 340.2,1179.0 337.3,1181.1 338.4,1177.7 335.4,1175.6 339.1,1175.6" fill="none" stroke="#0000ff" stroke-width="2" stroke-linejoin="round"/>
<polygon points="342.8,1163.5 343.9,1167.0 347.6,1167.0 344.6,1169.1 345.7,1172.5 342.8,1170.4 339.9,1172.5 341.0,1169.1 338.0,1167.0 341.7,1167.0" fill="none" stroke="#0000ff" stroke-width="2" stroke-linejoin="round"/>
<polygon points="338.5,1208.3 339.6,1211.8 343.3,1211.8 340.3,1213.9 341.4,1217.3 338.5,1215.2 335.6,1217.3 336.7,1213.9 333.7,1211.8 337.4,1211.8" fill="none" stroke="#0000ff" stroke-width="2" stroke-linejoin="round"/>
<polygon points="336.8,1199.7 337.9,1203.2 341.6,1203.2 338.6,1205.3 339.7,1208.7 336.8,1206.6 333.9,1208.7 335.0,1205.3 332.0,1203.2 335.7,1203.2" fill="none" stroke="#0000ff" stroke-width="2" stroke-linejoin="round"/>
<polygon points="336.8,1222.1 337.9,1225.6 341.6,1225.6 338.6,1227.7 339.7,1231.1 336.8,1229.0 333.9,1231.1 335.0,1227.7 332.0,1225.6 335.7,1225.6" fill="#0000ff" stroke="#0000ff" stroke-width="2" stroke-linejoin="round"/>
<polygon points="345.4,1223.8 346.5,1227.3 350.2,1227.3 347.2,1229.4 348.3,1232.8 345.4,1230.7 342.5,1232.8 343.6,1229.4 340.6,1227.3 344.3,1227.3" fill="none" stroke="#0000ff" stroke-width="2" stroke-linejoin="round"/>
<polygon points="343.7,1238.5 344.8,1242.0 348.5,1242.0 345.5,1244.1 346.6,1247.5 343.7,1245.4 340.8,1247.5 341.9,1244.1 338.9,1242.0 342.6,1242.0" fill="#0000ff" stroke="#0000ff" stroke-width="2" stroke-linejoin="round"/>
<polygon points="336.8,1254.8 337.9,1258.3 341.6,1258.3 338.6,1260.4 339.7,1263.8 336.8,1261.7 333.9,1263.8 335.0,1260.4 332.0,1258.3 335.7,1258.3" fill="none" stroke="#0000ff" stroke-width="2" stroke-linejoin="round"/>
<polygon points="319.5,1254.8 320.6,1258.3 324.3,1258.3 321.3,1260.4 322.4,1263.8 319.5,1261.7 316.6,1263.8 317.7,1260.4 314.7,1258.3 318.4,1258.3" fill="none" stroke="#0000ff" stroke-width="2" stroke-linejoin="round"/>
<polygon points="350.5,1203.1 351.6,1206.6 355.3,1206.6 352.3,1208.7 353.4,1212.1 350.5,1210.0 347.6,1212.1 348.7,1208.7 345.7,1206.6 349.4,1206.6" fill="#0000ff" stroke="#0000ff" stroke-width="2" stroke-linejoin="round"/>
<polygon points="362.6,1198.0 363.7,1201.5 367.4,1201.5 364.4,1203.6 365.5,1207.0 362.6,1204.9 359.7,1207.0 360.8,1203.6 357.8,1201.5 361.5,1201.5" fill="none" stroke="#0000ff" stroke-width="2" stroke-linejoin="round"/>
<polygon points="359.2,1182.5 360.3,1186.0 364.0,1186.0 361.0,1188.1 362.1,1191.5 359.2,1189.4 356.3,1191.5 357.4,1188.1 354.4,1186.0 358.1,1186.0" fill="none" stroke="#0000ff" stroke-width="2" stroke-linejoin="round"/>
<polygon points="379.8,1192.8 380.9,1196.3 384.6,1196.3 381.6,1198.4 382.7,1201.8 379.8,1199.7 376.9,1201.8 378.0,1198.4 375.0,1196.3 378.7,1196.3" fill="#0000ff" stroke="#0000ff" stroke-width="2" stroke-linejoin="round"/>
<polygon points="376.4,1216.9 377.5,1220.4 381.2,1220.4 378.2,1222.5 379.3,1225.9 376.4,1223.8 373.5,1225.9 374.6,1222.5 371.6,1220.4 375.3,1220.4" fill="#0000ff" stroke="#0000ff" stroke-width="2" stroke-linejoin="round"/>
<polygon points="354.0,1158.4 355.1,1161.9 358.8,1161.9 355.8,1164.0 356.9,1167.4 354.0,1165.3 351.1,1167.4 352.2,1164.0 349.2,1161.9 352.9,1161.9" fill="none" stroke="#0000ff" stroke-width="2" stroke-linejoin="round"/>
<polygon points="357.4,1151.5 358.5,1155.0 362.2,1155.0 359.2,1157.1 360.3,1160.5 357.4,1158.4 354.5,1160.5 355.6,1157.1 352.6,1155.0 356.3,1155.0" fill="none" stroke="#0000ff" stroke-width="2" stroke-linejoin="round"/>
<polygon points="364.3,1137.7 365.4,1141.2 369.1,1141.2 366.1,1143.3 367.2,1146.7 364.3,1144.6 361.4,1146.7 362.5,1143.3 359.5,1141.2 363.2,1141.2" fill="#0000ff" stroke="#0000ff" stroke-width="2" stroke-linejoin="round"/>
<polygon points="369.5,1141.1 370.6,1144.6 374.3,1144.6 371.3,1146.7 372.4,1150.1 369.5,1148.0 366.6,1150.1 367.7,1146.7 364.7,1144.6 368.4,1144.6" fill="none" stroke="#0000ff" stroke-width="2" stroke-linejoin="round"/>
<polygon points="367.8,1148.0 368.9,1151.5 372.6,1151.5 369.6,1153.6 370.7,1157.0 367.8,1154.9 364.9,1157.0 366.0,1153.6 363.0,1151.5 366.7,1151.5" fill="none" stroke="#0000ff" stroke-width="2" stroke-linejoin="round"/>
<polygon points="374.7,1149.7 375.8,1153.2 379.5,1153.2 376.5,1155.3 377.6,1158.7 374.7,1156.6 371.8,1158.7 372.9,1155.3 369.9,1153.2 373.6,1153.2" fill="none" stroke="#0000ff" stroke-width="2" stroke-linejoin="round"/>
<polygon points="381.6,1144.6 382.7,1148.1 386.4,1148.1 383.4,1150.2 384.5,1153.6 381.6,1151.5 378.7,1153.6 379.8,1150.2 376.8,1148.1 380.5,1148.1" fill="#0000ff" stroke="#0000ff" stroke-width="2" stroke-linejoin="round"/>
<polygon points="371.2,1137.7 372.3,1141.2 376.0,1141.2 373.0,1143.3 374.1,1146.7 371.2,1144.6 368.3,1146.7 369.4,1143.3 366.4,1141.2 370.1,1141.2" fill="none" stroke="#0000ff" stroke-width="2" stroke-linejoin="round"/>
<polygon points="379.8,1123.9 380.9,1127.4 384.6,1127.4 381.6,1129.5 382.7,1132.9 379.8,1130.8 376.9,1132.9 378.0,1129.5 375.0,1127.4 378.7,1127.4" fill="none" stroke="#0000ff" stroke-width="2" stroke-linejoin="round"/>
<polygon points="382.4,1167.8 383.5,1171.3 387.2,1171.3 384.2,1173.4 385.3,1176.8 382.4,1174.7 379.5,1176.8 380.6,1173.4 377.6,1171.3 381.3,1171.3" fill="none" stroke="#0000ff" stroke-width="2" stroke-linejoin="round"/>
<polygon points="419.6,1084.6 420.7,1088.1 424.4,1088.1 421.4,1090.2 422.5,1093.6 419.6,1091.5 416.7,1093.6 417.8,1090.2 414.8,1088.1 418.5,1088.1" fill="none" stroke="#0000ff" stroke-width="2" stroke-linejoin="round"/>
<polygon points="416.0,1090.6 417.1,1094.1 420.8,1094.1 417.8,1096.2 418.9,1099.6 416.0,1097.5 413.1,1099.6 414.2,1096.2 411.2,1094.1 414.9,1094.1" fill="none" stroke="#0000ff" stroke-width="2" stroke-linejoin="round"/>
<polygon points="414.8,1094.2 415.9,1097.7 419.6,1097.7 416.6,1099.8 417.7,1103.2 414.8,1101.1 411.9,1103.2 413.0,1099.8 410.0,1097.7 413.7,1097.7" fill="none" stroke="#0000ff" stroke-width="2" stroke-linejoin="round"/>
<polygon points="430.4,1082.2 431.5,1085.7 435.2,1085.7 432.2,1087.8 433.3,1091.2 430.4,1089.1 427.5,1091.2 428.6,1087.8 425.6,1085.7 429.3,1085.7" fill="none" stroke="#0000ff" stroke-width="2" stroke-linejoin="round"/>
<polygon points="429.2,1088.2 430.3,1091.7 434.0,1091.7 431.0,1093.8 432.1,1097.2 429.2,1095.1 426.3,1097.2 427.4,1093.8 424.4,1091.7 428.1,1091.7" fill="none" stroke="#0000ff" stroke-width="2" stroke-linejoin="round"/>
<polygon points="435.2,1085.8 436.3,1089.3 440.0,1089.3 437.0,1091.4 438.1,1094.8 435.2,1092.7 432.3,1094.8 433.4,1091.4 430.4,1089.3 434.1,1089.3" fill="none" stroke="#0000ff" stroke-width="2" stroke-linejoin="round"/>
<polygon points="432.8,1077.4 433.9,1080.9 437.6,1080.9 434.6,1083.0 435.7,1086.4 432.8,1084.3 429.9,1086.4 431.0,1083.0 428.0,1080.9 431.7,1080.9" fill="none" stroke="#0000ff" stroke-width="2" stroke-linejoin="round"/>
<polygon points="459.1,1077.4 460.2,1080.9 463.9,1080.9 460.9,1083.0 462.0,1086.4 459.1,1084.3 456.2,1086.4 457.3,1083.0 454.3,1080.9 458.0,1080.9" fill="#0000ff" stroke="#0000ff" stroke-width="2" stroke-linejoin="round"/>
<polygon points="463.9,1077.4 465.0,1080.9 468.7,1080.9 465.7,1083.0 466.8,1086.4 463.9,1084.3 461.0,1086.4 462.1,1083.0 459.1,1080.9 462.8,1080.9" fill="#0000ff" stroke="#0000ff" stroke-width="2" stroke-linejoin="round"/>
<polygon points="500.5,1088.8 501.6,1092.3 505.3,1092.3 502.3,1094.4 503.4,1097.8 500.5,1095.7 497.6,1097.8 498.7,1094.4 495.7,1092.3 499.4,1092.3" fill="none" stroke="#0000ff" stroke-width="2" stroke-linejoin="round"/>
<polygon points="406.4,1100.8 407.5,1104.3 411.2,1104.3 408.2,1106.4 409.3,1109.8 406.4,1107.7 403.5,1109.8 404.6,1106.4 401.6,1104.3 405.3,1104.3" fill="#0000ff" stroke="#0000ff" stroke-width="2" stroke-linejoin="round"/>
<polygon points="410.0,1106.2 411.1,1109.7 414.8,1109.7 411.8,1111.8 412.9,1115.2 410.0,1113.1 407.1,1115.2 408.2,1111.8 405.2,1109.7 408.9,1109.7" fill="none" stroke="#0000ff" stroke-width="2" stroke-linejoin="round"/>
<polygon points="420.8,1102.6 421.9,1106.1 425.6,1106.1 422.6,1108.2 423.7,1111.6 420.8,1109.5 417.9,1111.6 419.0,1108.2 416.0,1106.1 419.7,1106.1" fill="#0000ff" stroke="#0000ff" stroke-width="2" stroke-linejoin="round"/>
<polygon points="419.6,1100.8 420.7,1104.3 424.4,1104.3 421.4,1106.4 422.5,1109.8 419.6,1107.7 416.7,1109.8 417.8,1106.4 414.8,1104.3 418.5,1104.3" fill="none" stroke="#0000ff" stroke-width="2" stroke-linejoin="round"/>
<polygon points="398.0,1106.2 399.1,1109.7 402.8,1109.7 399.8,1111.8 400.9,1115.2 398.0,1113.1 395.1,1115.2 396.2,1111.8 393.2,1109.7 396.9,1109.7" fill="none" stroke="#0000ff" stroke-width="2" stroke-linejoin="round"/>
<polygon points="393.2,1109.8 394.3,1113.3 398.0,1113.3 395.0,1115.4 396.1,1118.8 393.2,1116.7 390.3,1118.8 391.4,1115.4 388.4,1113.3 392.1,1113.3" fill="#0000ff" stroke="#0000ff" stroke-width="2" stroke-linejoin="round"/>
<polygon points="399.2,1111.0 400.3,1114.5 404.0,1114.5 401.0,1116.6 402.1,1120.0 399.2,1117.9 396.3,1120.0 397.4,1116.6 394.4,1114.5 398.1,1114.5" fill="none" stroke="#0000ff" stroke-width="2" stroke-linejoin="round"/>
<polygon points="437.0,1108.0 438.1,1111.5 441.8,1111.5 438.8,1113.6 439.9,1117.0 437.0,1114.9 434.1,1117.0 435.2,1113.6 432.2,1111.5 435.9,1111.5" fill="none" stroke="#0000ff" stroke-width="2" stroke-linejoin="round"/>
<polygon points="454.3,1103.2 455.4,1106.7 459.1,1106.7 456.1,1108.8 457.2,1112.2 454.3,1110.1 451.4,1112.2 452.5,1108.8 449.5,1106.7 453.2,1106.7" fill="none" stroke="#0000ff" stroke-width="2" stroke-linejoin="round"/>
<polygon points="462.7,1099.0 463.8,1102.5 467.5,1102.5 464.5,1104.6 465.6,1108.0 462.7,1105.9 459.8,1108.0 460.9,1104.6 457.9,1102.5 461.6,1102.5" fill="none" stroke="#0000ff" stroke-width="2" stroke-linejoin="round"/>
<polygon points="392.0,1124.2 393.1,1127.7 396.8,1127.7 393.8,1129.8 394.9,1133.2 392.0,1131.1 389.1,1133.2 390.2,1129.8 387.2,1127.7 390.9,1127.7" fill="none" stroke="#0000ff" stroke-width="2" stroke-linejoin="round"/>
<polygon points="402.2,1123.0 403.3,1126.5 407.0,1126.5 404.0,1128.6 405.1,1132.0 402.2,1129.9 399.3,1132.0 400.4,1128.6 397.4,1126.5 401.1,1126.5" fill="none" stroke="#0000ff" stroke-width="2" stroke-linejoin="round"/>
<polygon points="402.2,1132.6 403.3,1136.1 407.0,1136.1 404.0,1138.2 405.1,1141.6 402.2,1139.5 399.3,1141.6 400.4,1138.2 397.4,1136.1 401.1,1136.1" fill="none" stroke="#0000ff" stroke-width="2" stroke-linejoin="round"/>
<polygon points="402.2,1137.4 403.3,1140.9 407.0,1140.9 404.0,1143.0 405.1,1146.4 402.2,1144.3 399.3,1146.4 400.4,1143.0 397.4,1140.9 401.1,1140.9" fill="none" stroke="#0000ff" stroke-width="2" stroke-linejoin="round"/>
<polygon points="441.2,1127.8 442.3,1131.3 446.0,1131.3 443.0,1133.4 444.1,1136.8 441.2,1134.7 438.3,1136.8 439.4,1133.4 436.4,1131.3 440.1,1131.3" fill="none" stroke="#0000ff" stroke-width="2" stroke-linejoin="round"/>
<polygon points="446.0,1137.4 447.1,1140.9 450.8,1140.9 447.8,1143.0 448.9,1146.4 446.0,1144.3 443.1,1146.4 444.2,1143.0 441.2,1140.9 444.9,1140.9" fill="none" stroke="#0000ff" stroke-width="2" stroke-linejoin="round"/>
<polygon points="406.4,1149.3 407.5,1152.8 411.2,1152.8 408.2,1154.9 409.3,1158.3 406.4,1156.2 403.5,1158.3 404.6,1154.9 401.6,1152.8 405.3,1152.8" fill="#0000ff" stroke="#0000ff" stroke-width="2" stroke-linejoin="round"/>
<polygon points="410.0,1145.8 411.1,1149.3 414.8,1149.3 411.8,1151.4 412.9,1154.8 410.0,1152.7 407.1,1154.8 408.2,1151.4 405.2,1149.3 408.9,1149.3" fill="#0000ff" stroke="#0000ff" stroke-width="2" stroke-linejoin="round"/>
<polygon points="392.0,1158.9 393.1,1162.4 396.8,1162.4 393.8,1164.5 394.9,1167.9 392.0,1165.8 389.1,1167.9 390.2,1164.5 387.2,1162.4 390.9,1162.4" fill="#0000ff" stroke="#0000ff" stroke-width="2" stroke-linejoin="round"/>
<polygon points="388.4,1163.7 389.5,1167.2 393.2,1167.2 390.2,1169.3 391.3,1172.7 388.4,1170.6 385.5,1172.7 386.6,1169.3 383.6,1167.2 387.3,1167.2" fill="none" stroke="#0000ff" stroke-width="2" stroke-linejoin="round"/>
<polygon points="423.8,1158.3 424.9,1161.8 428.6,1161.8 425.6,1163.9 426.7,1167.3 423.8,1165.2 420.9,1167.3 422.0,1163.9 419.0,1161.8 422.7,1161.8" fill="#0000ff" stroke="#0000ff" stroke-width="2" stroke-linejoin="round"/>
<polygon points="423.8,1171.5 424.9,1175.0 428.6,1175.0 425.6,1177.1 426.7,1180.5 423.8,1178.4 420.9,1180.5 422.0,1177.1 419.0,1175.0 422.7,1175.0" fill="none" stroke="#0000ff" stroke-width="2" stroke-linejoin="round"/>
<polygon points="482.5,1149.3 483.6,1152.8 487.3,1152.8 484.3,1154.9 485.4,1158.3 482.5,1156.2 479.6,1158.3 480.7,1154.9 477.7,1152.8 481.4,1152.8" fill="none" stroke="#0000ff" stroke-width="2" stroke-linejoin="round"/>
<polygon points="511.3,1139.2 512.4,1142.7 516.1,1142.7 513.1,1144.8 514.2,1148.2 511.3,1146.1 508.4,1148.2 509.5,1144.8 506.5,1142.7 510.2,1142.7" fill="none" stroke="#0000ff" stroke-width="2" stroke-linejoin="round"/>
<polygon points="546.1,1123.6 547.2,1127.1 550.9,1127.1 547.9,1129.2 549.0,1132.6 546.1,1130.5 543.2,1132.6 544.3,1129.2 541.3,1127.1 545.0,1127.1" fill="#0000ff" stroke="#0000ff" stroke-width="2" stroke-linejoin="round"/>
<polygon points="406.4,1184.1 407.5,1187.6 411.2,1187.6 408.2,1189.7 409.3,1193.1 406.4,1191.0 403.5,1193.1 404.6,1189.7 401.6,1187.6 405.3,1187.6" fill="#0000ff" stroke="#0000ff" stroke-width="2" stroke-linejoin="round"/>
<polygon points="410.6,1202.1 411.7,1205.6 415.4,1205.6 412.4,1207.7 413.5,1211.1 410.6,1209.0 407.7,1211.1 408.8,1207.7 405.8,1205.6 409.5,1205.6" fill="none" stroke="#0000ff" stroke-width="2" stroke-linejoin="round"/>
<polygon points="448.4,1210.5 449.5,1214.0 453.2,1214.0 450.2,1216.1 451.3,1219.5 448.4,1217.4 445.5,1219.5 446.6,1216.1 443.6,1214.0 447.3,1214.0" fill="#0000ff" stroke="#0000ff" stroke-width="2" stroke-linejoin="round"/>
<polygon points="463.3,1212.3 464.4,1215.8 468.1,1215.8 465.1,1217.9 466.2,1221.3 463.3,1219.2 460.4,1221.3 461.5,1217.9 458.5,1215.8 462.2,1215.8" fill="none" stroke="#0000ff" stroke-width="2" stroke-linejoin="round"/>
<polygon points="389.0,1232.1 390.1,1235.6 393.8,1235.6 390.8,1237.7 391.9,1241.1 389.0,1239.0 386.1,1241.1 387.2,1237.7 384.2,1235.6 387.9,1235.6" fill="#0000ff" stroke="#0000ff" stroke-width="2" stroke-linejoin="round"/>
<polygon points="622.5,901.0 623.6,904.5 627.3,904.5 624.3,906.6 625.4,910.0 622.5,907.9 619.6,910.0 620.7,906.6 617.7,904.5 621.4,904.5" fill="none" stroke="#0000ff" stroke-width="2" stroke-linejoin="round"/>
<polygon points="617.3,904.4 618.4,907.9 622.1,907.9 619.1,910.0 620.2,913.4 617.3,911.3 614.4,913.4 615.5,910.0 612.5,907.9 616.2,907.9" fill="none" stroke="#0000ff" stroke-width="2" stroke-linejoin="round"/>
<polygon points="613.8,907.0 614.9,910.5 618.6,910.5 615.6,912.6 616.7,916.0 613.8,913.9 610.9,916.0 612.0,912.6 609.0,910.5 612.7,910.5" fill="none" stroke="#0000ff" stroke-width="2" stroke-linejoin="round"/>
<polygon points="606.9,911.4 608.0,914.9 611.7,914.9 608.7,917.0 609.8,920.4 606.9,918.3 604.0,920.4 605.1,917.0 602.1,914.9 605.8,914.9" fill="none" stroke="#0000ff" stroke-width="2" stroke-linejoin="round"/>
<polygon points="591.3,920.4 592.4,923.9 596.1,923.9 593.1,926.0 594.2,929.4 591.3,927.3 588.4,929.4 589.5,926.0 586.5,923.9 590.2,923.9" fill="none" stroke="#0000ff" stroke-width="2" stroke-linejoin="round"/>
<polygon points="606.9,944.6 608.0,948.1 611.7,948.1 608.7,950.2 609.8,953.6 606.9,951.5 604.0,953.6 605.1,950.2 602.1,948.1 605.8,948.1" fill="none" stroke="#0000ff" stroke-width="2" stroke-linejoin="round"/>
<polygon points="580.9,944.3 582.0,947.8 585.7,947.8 582.7,949.9 583.8,953.3 580.9,951.2 578.0,953.3 579.1,949.9 576.1,947.8 579.8,947.8" fill="none" stroke="#0000ff" stroke-width="2" stroke-linejoin="round"/>
<polygon points="587.9,952.1 589.0,955.6 592.7,955.6 589.7,957.7 590.8,961.1 587.9,959.0 585.0,961.1 586.1,957.7 583.1,955.6 586.8,955.6" fill="none" stroke="#0000ff" stroke-width="2" stroke-linejoin="round"/>
<polygon points="567.9,949.8 569.0,953.3 572.7,953.3 569.7,955.4 570.8,958.8 567.9,956.7 565.0,958.8 566.1,955.4 563.1,953.3 566.8,953.3" fill="none" stroke="#0000ff" stroke-width="2" stroke-linejoin="round"/>
<polygon points="532.8,975.1 533.9,978.6 537.6,978.6 534.6,980.7 535.7,984.1 532.8,982.0 529.9,984.1 531.0,980.7 528.0,978.6 531.7,978.6" fill="none" stroke="#0000ff" stroke-width="2" stroke-linejoin="round"/>
<polygon points="563.6,992.8 564.7,996.3 568.4,996.3 565.4,998.4 566.5,1001.8 563.6,999.7 560.7,1001.8 561.8,998.4 558.8,996.3 562.5,996.3" fill="none" stroke="#0000ff" stroke-width="2" stroke-linejoin="round"/>
<polygon points="557.0,1005.8 558.1,1009.3 561.8,1009.3 558.8,1011.4 559.9,1014.8 557.0,1012.7 554.1,1014.8 555.2,1011.4 552.2,1009.3 555.9,1009.3" fill="none" stroke="#0000ff" stroke-width="2" stroke-linejoin="round"/>
<polygon points="520.0,992.8 521.1,996.3 524.8,996.3 521.8,998.4 522.9,1001.8 520.0,999.7 517.1,1001.8 518.2,998.4 515.2,996.3 518.9,996.3" fill="none" stroke="#0000ff" stroke-width="2" stroke-linejoin="round"/>
<polygon points="503.3,1003.2 504.4,1006.7 508.1,1006.7 505.1,1008.8 506.2,1012.2 503.3,1010.1 500.4,1012.2 501.5,1008.8 498.5,1006.7 502.2,1006.7" fill="none" stroke="#0000ff" stroke-width="2" stroke-linejoin="round"/>
<polygon points="492.6,1015.3 493.7,1018.8 497.4,1018.8 494.4,1020.9 495.5,1024.3 492.6,1022.2 489.7,1024.3 490.8,1020.9 487.8,1018.8 491.5,1018.8" fill="none" stroke="#0000ff" stroke-width="2" stroke-linejoin="round"/>
<polygon points="480.5,1023.1 481.6,1026.6 485.3,1026.6 482.3,1028.7 483.4,1032.1 480.5,1030.0 477.6,1032.1 478.7,1028.7 475.7,1026.6 479.4,1026.6" fill="none" stroke="#0000ff" stroke-width="2" stroke-linejoin="round"/>
<polygon points="482.2,1028.3 483.3,1031.8 487.0,1031.8 484.0,1033.9 485.1,1037.3 482.2,1035.2 479.3,1037.3 480.4,1033.9 477.4,1031.8 481.1,1031.8" fill="none" stroke="#0000ff" stroke-width="2" stroke-linejoin="round"/>
<polygon points="509.0,1018.4 510.1,1021.9 513.8,1021.9 510.8,1024.0 511.9,1027.4 509.0,1025.3 506.1,1027.4 507.2,1024.0 504.2,1021.9 507.9,1021.9" fill="none" stroke="#0000ff" stroke-width="2" stroke-linejoin="round"/>
<polygon points="520.0,1018.8 521.1,1022.3 524.8,1022.3 521.8,1024.4 522.9,1027.8 520.0,1025.7 517.1,1027.8 518.2,1024.4 515.2,1022.3 518.9,1022.3" fill="none" stroke="#0000ff" stroke-width="2" stroke-linejoin="round"/>
<polygon points="506.5,1026.6 507.6,1030.1 511.3,1030.1 508.3,1032.2 509.4,1035.6 506.5,1033.5 503.6,1035.6 504.7,1032.2 501.7,1030.1 505.4,1030.1" fill="none" stroke="#0000ff" stroke-width="2" stroke-linejoin="round"/>
<polygon points="508.2,1022.2 509.3,1025.7 513.0,1025.7 510.0,1027.8 511.1,1031.2 508.2,1029.1 505.3,1031.2 506.4,1027.8 503.4,1025.7 507.1,1025.7" fill="none" stroke="#0000ff" stroke-width="2" stroke-linejoin="round"/>
<polygon points="463.1,1039.6 464.2,1043.1 467.9,1043.1 464.9,1045.2 466.0,1048.6 463.1,1046.5 460.2,1048.6 461.3,1045.2 458.3,1043.1 462.0,1043.1" fill="#0000ff" stroke="#0000ff" stroke-width="2" stroke-linejoin="round"/>
<polygon points="461.4,1048.2 462.5,1051.7 466.2,1051.7 463.2,1053.8 464.3,1057.2 461.4,1055.1 458.5,1057.2 459.6,1053.8 456.6,1051.7 460.3,1051.7" fill="none" stroke="#0000ff" stroke-width="2" stroke-linejoin="round"/>
<polygon points="454.5,1049.1 455.6,1052.6 459.3,1052.6 456.3,1054.7 457.4,1058.1 454.5,1056.0 451.6,1058.1 452.7,1054.7 449.7,1052.6 453.4,1052.6" fill="none" stroke="#0000ff" stroke-width="2" stroke-linejoin="round"/>
<polygon points="506.8,1040.4 507.9,1043.9 511.6,1043.9 508.6,1046.0 509.7,1049.4 506.8,1047.3 503.9,1049.4 505.0,1046.0 502.0,1043.9 505.7,1043.9" fill="#0000ff" stroke="#0000ff" stroke-width="2" stroke-linejoin="round"/>
<polygon points="493.5,1050.8 494.6,1054.3 498.3,1054.3 495.3,1056.4 496.4,1059.8 493.5,1057.7 490.6,1059.8 491.7,1056.4 488.7,1054.3 492.4,1054.3" fill="none" stroke="#0000ff" stroke-width="2" stroke-linejoin="round"/>
<polygon points="487.4,1062.1 488.5,1065.6 492.2,1065.6 489.2,1067.7 490.3,1071.1 487.4,1069.0 484.5,1071.1 485.6,1067.7 482.6,1065.6 486.3,1065.6" fill="#0000ff" stroke="#0000ff" stroke-width="2" stroke-linejoin="round"/>
<polygon points="495.2,1062.1 496.3,1065.6 500.0,1065.6 497.0,1067.7 498.1,1071.1 495.2,1069.0 492.3,1071.1 493.4,1067.7 490.4,1065.6 494.1,1065.6" fill="none" stroke="#0000ff" stroke-width="2" stroke-linejoin="round"/>
<polygon points="506.8,1071.6 507.9,1075.1 511.6,1075.1 508.6,1077.2 509.7,1080.6 506.8,1078.5 503.9,1080.6 505.0,1077.2 502.0,1075.1 505.7,1075.1" fill="none" stroke="#0000ff" stroke-width="2" stroke-linejoin="round"/>
<polygon points="437.2,1069.0 438.3,1072.5 442.0,1072.5 439.0,1074.6 440.1,1078.0 437.2,1075.9 434.3,1078.0 435.4,1074.6 432.4,1072.5 436.1,1072.5" fill="#0000ff" stroke="#0000ff" stroke-width="2" stroke-linejoin="round"/>
<polygon points="619.9,1066.4 621.0,1069.9 624.7,1069.9 621.7,1072.0 622.8,1075.4 619.9,1073.3 617.0,1075.4 618.1,1072.0 615.1,1069.9 618.8,1069.9" fill="none" stroke="#0000ff" stroke-width="2" stroke-linejoin="round"/>
<polygon points="236.1,1267.5 237.2,1271.0 240.9,1271.0 237.9,1273.1 239.0,1276.5 236.1,1274.4 233.2,1276.5 234.3,1273.1 231.3,1271.0 235.0,1271.0" fill="#0000ff" stroke="#0000ff" stroke-width="2" stroke-linejoin="round"/>
<polygon points="242.1,1266.3 243.2,1269.8 246.9,1269.8 243.9,1271.9 245.0,1275.3 242.1,1273.2 239.2,1275.3 240.3,1271.9 237.3,1269.8 241.0,1269.8" fill="#0000ff" stroke="#0000ff" stroke-width="2" stroke-linejoin="round"/>
<polygon points="232.5,1272.2 233.6,1275.7 237.3,1275.7 234.3,1277.8 235.4,1281.2 232.5,1279.1 229.6,1281.2 230.7,1277.8 227.7,1275.7 231.4,1275.7" fill="#0000ff" stroke="#0000ff" stroke-width="2" stroke-linejoin="round"/>
<polygon points="246.8,1267.5 247.9,1271.0 251.6,1271.0 248.6,1273.1 249.7,1276.5 246.8,1274.4 243.9,1276.5 245.0,1273.1 242.0,1271.0 245.7,1271.0" fill="#0000ff" stroke="#0000ff" stroke-width="2" stroke-linejoin="round"/>
<polygon points="251.6,1263.9 252.7,1267.4 256.4,1267.4 253.4,1269.5 254.5,1272.9 251.6,1270.8 248.7,1272.9 249.8,1269.5 246.8,1267.4 250.5,1267.4" fill="#0000ff" stroke="#0000ff" stroke-width="2" stroke-linejoin="round"/>
<polygon points="263.5,1254.3 264.6,1257.8 268.3,1257.8 265.3,1259.9 266.4,1263.3 263.5,1261.2 260.6,1263.3 261.7,1259.9 258.7,1257.8 262.4,1257.8" fill="#0000ff" stroke="#0000ff" stroke-width="2" stroke-linejoin="round"/>
<polygon points="267.1,1248.4 268.2,1251.9 271.9,1251.9 268.9,1254.0 270.0,1257.4 267.1,1255.3 264.2,1257.4 265.3,1254.0 262.3,1251.9 266.0,1251.9" fill="#0000ff" stroke="#0000ff" stroke-width="2" stroke-linejoin="round"/>
<polygon points="273.1,1254.3 274.2,1257.8 277.9,1257.8 274.9,1259.9 276.0,1263.3 273.1,1261.2 270.2,1263.3 271.3,1259.9 268.3,1257.8 272.0,1257.8" fill="#0000ff" stroke="#0000ff" stroke-width="2" stroke-linejoin="round"/>
<polygon points="262.3,1261.5 263.4,1265.0 267.1,1265.0 264.1,1267.1 265.2,1270.5 262.3,1268.4 259.4,1270.5 260.5,1267.1 257.5,1265.0 261.2,1265.0" fill="#0000ff" stroke="#0000ff" stroke-width="2" stroke-linejoin="round"/>
<polygon points="270.7,1265.1 271.8,1268.6 275.5,1268.6 272.5,1270.7 273.6,1274.1 270.7,1272.0 267.8,1274.1 268.9,1270.7 265.9,1268.6 269.6,1268.6" fill="#0000ff" stroke="#0000ff" stroke-width="2" stroke-linejoin="round"/>
<polygon points="282.6,1228.1 283.7,1231.6 287.4,1231.6 284.4,1233.7 285.5,1237.1 282.6,1235.0 279.7,1237.1 280.8,1233.7 277.8,1231.6 281.5,1231.6" fill="#0000ff" stroke="#0000ff" stroke-width="2" stroke-linejoin="round"/>
<polygon points="287.4,1232.9 288.5,1236.4 292.2,1236.4 289.2,1238.5 290.3,1241.9 287.4,1239.8 284.5,1241.9 285.6,1238.5 282.6,1236.4 286.3,1236.4" fill="#0000ff" stroke="#0000ff" stroke-width="2" stroke-linejoin="round"/>
<polygon points="291.0,1248.4 292.1,1251.9 295.8,1251.9 292.8,1254.0 293.9,1257.4 291.0,1255.3 288.1,1257.4 289.2,1254.0 286.2,1251.9 289.9,1251.9" fill="#0000ff" stroke="#0000ff" stroke-width="2" stroke-linejoin="round"/>
<polygon points="298.1,1253.1 299.2,1256.6 302.9,1256.6 299.9,1258.7 301.0,1262.1 298.1,1260.0 295.2,1262.1 296.3,1258.7 293.3,1256.6 297.0,1256.6" fill="#0000ff" stroke="#0000ff" stroke-width="2" stroke-linejoin="round"/>
<polygon points="287.4,1251.9 288.5,1255.4 292.2,1255.4 289.2,1257.5 290.3,1260.9 287.4,1258.8 284.5,1260.9 285.6,1257.5 282.6,1255.4 286.3,1255.4" fill="#0000ff" stroke="#0000ff" stroke-width="2" stroke-linejoin="round"/>
<polygon points="308.9,1206.6 310.0,1210.1 313.7,1210.1 310.7,1212.2 311.8,1215.6 308.9,1213.5 306.0,1215.6 307.1,1212.2 304.1,1210.1 307.8,1210.1" fill="#0000ff" stroke="#0000ff" stroke-width="2" stroke-linejoin="round"/>
<polygon points="304.1,1212.6 305.2,1216.1 308.9,1216.1 305.9,1218.2 307.0,1221.6 304.1,1219.5 301.2,1221.6 302.3,1218.2 299.3,1216.1 303.0,1216.1" fill="#0000ff" stroke="#0000ff" stroke-width="2" stroke-linejoin="round"/>
<polygon points="312.5,1218.5 313.6,1222.0 317.3,1222.0 314.3,1224.1 315.4,1227.5 312.5,1225.4 309.6,1227.5 310.7,1224.1 307.7,1222.0 311.4,1222.0" fill="#0000ff" stroke="#0000ff" stroke-width="2" stroke-linejoin="round"/>
<polygon points="319.6,1220.9 320.7,1224.4 324.4,1224.4 321.4,1226.5 322.5,1229.9 319.6,1227.8 316.7,1229.9 317.8,1226.5 314.8,1224.4 318.5,1224.4" fill="#0000ff" stroke="#0000ff" stroke-width="2" stroke-linejoin="round"/>
<polygon points="299.3,1206.6 300.4,1210.1 304.1,1210.1 301.1,1212.2 302.2,1215.6 299.3,1213.5 296.4,1215.6 297.5,1212.2 294.5,1210.1 298.2,1210.1" fill="#0000ff" stroke="#0000ff" stroke-width="2" stroke-linejoin="round"/>
<polygon points="659.0,1049.0 660.1,1052.5 663.8,1052.5 660.8,1054.6 661.9,1058.0 659.0,1055.9 656.1,1058.0 657.2,1054.6 654.2,1052.5 657.9,1052.5" fill="none" stroke="#0000ff" stroke-width="2" stroke-linejoin="round"/>
<polygon points="685.5,1241.2 686.6,1244.7 690.3,1244.7 687.3,1246.8 688.4,1250.2 685.5,1248.1 682.6,1250.2 683.7,1246.8 680.7,1244.7 684.4,1244.7" fill="#0000ff" stroke="#0000ff" stroke-width="2" stroke-linejoin="round"/>
<polygon points="546.0,1258.8 547.1,1262.3 550.8,1262.3 547.8,1264.4 548.9,1267.8 546.0,1265.7 543.1,1267.8 544.2,1264.4 541.2,1262.3 544.9,1262.3" fill="#0000ff" stroke="#0000ff" stroke-width="2" stroke-linejoin="round"/>
<polygon points="460.3,1258.8 461.4,1262.3 465.1,1262.3 462.1,1264.4 463.2,1267.8 460.3,1265.7 457.4,1267.8 458.5,1264.4 455.5,1262.3 459.2,1262.3" fill="#0000ff" stroke="#0000ff" stroke-width="2" stroke-linejoin="round"/>
<polygon points="436.6,1267.0 437.7,1270.5 441.4,1270.5 438.4,1272.6 439.5,1276.0 436.6,1273.9 433.7,1276.0 434.8,1272.6 431.8,1270.5 435.5,1270.5" fill="#0000ff" stroke="#0000ff" stroke-width="2" stroke-linejoin="round"/>
<polygon points="406.6,1267.0 407.7,1270.5 411.4,1270.5 408.4,1272.6 409.5,1276.0 406.6,1273.9 403.7,1276.0 404.8,1272.6 401.8,1270.5 405.5,1270.5" fill="#0000ff" stroke="#0000ff" stroke-width="2" stroke-linejoin="round"/>
<polygon points="388.9,1263.4 390.0,1266.9 393.7,1266.9 390.7,1269.0 391.8,1272.4 388.9,1270.3 386.0,1272.4 387.1,1269.0 384.1,1266.9 387.8,1266.9" fill="#0000ff" stroke="#0000ff" stroke-width="2" stroke-linejoin="round"/>
<polygon points="391.7,1258.0 392.8,1261.5 396.5,1261.5 393.5,1263.6 394.6,1267.0 391.7,1264.9 388.8,1267.0 389.9,1263.6 386.9,1261.5 390.6,1261.5" fill="#0000ff" stroke="#0000ff" stroke-width="2" stroke-linejoin="round"/>
<polygon points="364.2,1324.2 365.3,1327.7 369.0,1327.7 366.0,1329.8 367.1,1333.2 364.2,1331.1 361.3,1333.2 362.4,1329.8 359.4,1327.7 363.1,1327.7" fill="#0000ff" stroke="#0000ff" stroke-width="2" stroke-linejoin="round"/>
<line x1="193.1" y1="1313.5" x2="685.6" y2="935.5" stroke="#000" stroke-width="3.28" stroke-dasharray="12.15 5.25"/>
</g>
<rect x="83.6" y="775.7" width="645.7" height="645.4" fill="none" stroke="#000" stroke-width="1.6"/>
<text x="83.6" y="1459.8" font-size="32" text-anchor="middle">0</text>
<text x="258.1" y="1459.8" font-size="32" text-anchor="middle">2</text>
<text x="432.6" y="1459.8" font-size="32" text-anchor="middle">4</text>
<text x="607.1" y="1459.8" font-size="32" text-anchor="middle">6</text>
<text x="69.6" y="1432.9" font-size="32" text-anchor="end">0</text>
<text x="69.6" y="1345.6" font-size="32" text-anchor="end">1</text>
<text x="69.6" y="1258.4" font-size="32" text-anchor="end">2</text>
<text x="69.6" y="1171.1" font-size="32" text-anchor="end">3</text>
<text x="69.6" y="1083.9" font-size="32" text-anchor="end">4</text>
<text x="69.6" y="996.6" font-size="32" text-anchor="end">5</text>
<text x="69.6" y="909.4" font-size="32" text-anchor="end">6</text>
<text x="69.6" y="822.1" font-size="32" text-anchor="end">7</text>
<path d="M83.6,1421.1v7M258.1,1421.1v7M432.6,1421.1v7M607.1,1421.1v7M83.6,1421.1h-7M83.6,1333.8h-7M83.6,1246.6h-7M83.6,1159.3h-7M83.6,1072.1h-7M83.6,984.8h-7M83.6,897.6h-7M83.6,810.3h-7" stroke="#000" stroke-width="1.6"/>
<text x="406.4" y="1498.1" font-size="32" letter-spacing="-0.6" text-anchor="middle">foEs [MHz]</text>
<text transform="translate(33.1,1098.4) rotate(-90)" x="0" y="0" font-size="32" letter-spacing="-0.6" text-anchor="middle">fbEs [MHz]</text>
<line x1="326.4" y1="822.4" x2="370.4" y2="822.4" stroke="#000" stroke-width="3.28" stroke-dasharray="12.15 5.25"/>
<text x="388.7" y="810.4" font-size="22" letter-spacing="-0.1">fbEs=0.77×foEs+0.27</text>
<text x="388.7" y="840.5" font-size="22" letter-spacing="-0.1">R<tspan dy="-8.3" font-size="15.4">2</tspan><tspan dy="8.3">=0.73; </tspan><tspan font-style="italic">ρ</tspan>=0.86; p-val=0.00</text>
</g>
<g id="BR">
<clipPath id="cBR"><rect x="879.3" y="775.6" width="595.8" height="645.6"/></clipPath>
<g clip-path="url(#cBR)">
<polygon points="1277.1,939.3 1281.9,942.8 1280.0,948.3 1274.2,948.3 1272.3,942.8" fill="none" stroke="#ff00ff" stroke-width="2" stroke-linejoin="round"/>
<polygon points="1268.1,949.0 1272.9,952.5 1271.0,958.0 1265.2,958.0 1263.3,952.5" fill="none" stroke="#ff00ff" stroke-width="2" stroke-linejoin="round"/>
<polygon points="1303.8,943.3 1308.6,946.8 1306.7,952.3 1300.9,952.3 1299.0,946.8" fill="none" stroke="#ff00ff" stroke-width="2" stroke-linejoin="round"/>
<polygon points="1309.8,957.3 1314.6,960.8 1312.7,966.3 1306.9,966.3 1305.0,960.8" fill="none" stroke="#ff00ff" stroke-width="2" stroke-linejoin="round"/>
<polygon points="1243.1,985.0 1247.9,988.5 1246.0,994.0 1240.2,994.0 1238.3,988.5" fill="none" stroke="#ff00ff" stroke-width="2" stroke-linejoin="round"/>
<polygon points="1255.8,980.0 1260.6,983.5 1258.7,989.0 1252.9,989.0 1251.0,983.5" fill="none" stroke="#ff00ff" stroke-width="2" stroke-linejoin="round"/>
<polygon points="1289.8,980.0 1294.6,983.5 1292.7,989.0 1286.9,989.0 1285.0,983.5" fill="none" stroke="#ff00ff" stroke-width="2" stroke-linejoin="round"/>
<polygon points="1285.8,986.6 1290.6,990.1 1288.7,995.6 1282.9,995.6 1281.0,990.1" fill="none" stroke="#ff00ff" stroke-width="2" stroke-linejoin="round"/>
<polygon points="1200.5,1008.3 1205.3,1011.8 1203.4,1017.3 1197.6,1017.3 1195.7,1011.8" fill="none" stroke="#ff00ff" stroke-width="2" stroke-linejoin="round"/>
<polygon points="1197.2,1024.3 1202.0,1027.8 1200.1,1033.3 1194.3,1033.3 1192.4,1027.8" fill="none" stroke="#ff00ff" stroke-width="2" stroke-linejoin="round"/>
<polygon points="1223.8,1024.3 1228.6,1027.8 1226.7,1033.3 1220.9,1033.3 1219.0,1027.8" fill="none" stroke="#ff00ff" stroke-width="2" stroke-linejoin="round"/>
<polygon points="1243.8,1036.6 1248.6,1040.1 1246.7,1045.6 1240.9,1045.6 1239.0,1040.1" fill="none" stroke="#ff00ff" stroke-width="2" stroke-linejoin="round"/>
<polygon points="1133.9,1033.9 1138.7,1037.4 1136.8,1042.9 1131.0,1042.9 1129.1,1037.4" fill="none" stroke="#ff00ff" stroke-width="2" stroke-linejoin="round"/>
<polygon points="1164.2,1044.9 1169.0,1048.4 1167.1,1053.9 1161.3,1053.9 1159.4,1048.4" fill="none" stroke="#ff00ff" stroke-width="2" stroke-linejoin="round"/>
<polygon points="1162.2,1054.9 1167.0,1058.4 1165.1,1063.9 1159.3,1063.9 1157.4,1058.4" fill="none" stroke="#ff00ff" stroke-width="2" stroke-linejoin="round"/>
<polygon points="1194.8,1048.9 1199.6,1052.4 1197.7,1057.9 1191.9,1057.9 1190.0,1052.4" fill="none" stroke="#ff00ff" stroke-width="2" stroke-linejoin="round"/>
<polygon points="1093.2,1052.2 1098.0,1055.7 1096.1,1061.2 1090.3,1061.2 1088.4,1055.7" fill="none" stroke="#ff00ff" stroke-width="2" stroke-linejoin="round"/>
<polygon points="1103.2,1056.6 1108.0,1060.1 1106.1,1065.6 1100.3,1065.6 1098.4,1060.1" fill="none" stroke="#ff00ff" stroke-width="2" stroke-linejoin="round"/>
<polygon points="1089.2,1074.9 1094.0,1078.4 1092.1,1083.9 1086.3,1083.9 1084.4,1078.4" fill="none" stroke="#ff00ff" stroke-width="2" stroke-linejoin="round"/>
<polygon points="1104.9,1076.6 1109.7,1080.1 1107.8,1085.6 1102.0,1085.6 1100.1,1080.1" fill="none" stroke="#ff00ff" stroke-width="2" stroke-linejoin="round"/>
<polygon points="1106.6,1078.9 1111.4,1082.4 1109.5,1087.9 1103.7,1087.9 1101.8,1082.4" fill="none" stroke="#ff00ff" stroke-width="2" stroke-linejoin="round"/>
<polygon points="1064.9,1095.5 1069.7,1099.0 1067.8,1104.5 1062.0,1104.5 1060.1,1099.0" fill="none" stroke="#ff00ff" stroke-width="2" stroke-linejoin="round"/>
<polygon points="1116.6,1096.5 1121.4,1100.0 1119.5,1105.5 1113.7,1105.5 1111.8,1100.0" fill="none" stroke="#ff00ff" stroke-width="2" stroke-linejoin="round"/>
<polygon points="1104.9,1102.2 1109.7,1105.7 1107.8,1111.2 1102.0,1111.2 1100.1,1105.7" fill="none" stroke="#ff00ff" stroke-width="2" stroke-linejoin="round"/>
<polygon points="1130.9,1102.5 1135.7,1106.0 1133.8,1111.5 1128.0,1111.5 1126.1,1106.0" fill="none" stroke="#ff00ff" stroke-width="2" stroke-linejoin="round"/>
<polygon points="1138.2,1100.9 1143.0,1104.4 1141.1,1109.9 1135.3,1109.9 1133.4,1104.4" fill="none" stroke="#ff00ff" stroke-width="2" stroke-linejoin="round"/>
<polygon points="1098.9,1110.9 1103.7,1114.4 1101.8,1119.9 1096.0,1119.9 1094.1,1114.4" fill="none" stroke="#ff00ff" stroke-width="2" stroke-linejoin="round"/>
<polygon points="1114.2,1113.2 1119.0,1116.7 1117.1,1122.2 1111.3,1122.2 1109.4,1116.7" fill="none" stroke="#ff00ff" stroke-width="2" stroke-linejoin="round"/>
<polygon points="1192.5,1088.2 1197.3,1091.7 1195.4,1097.2 1189.6,1097.2 1187.7,1091.7" fill="none" stroke="#ff00ff" stroke-width="2" stroke-linejoin="round"/>
<polygon points="1190.8,1097.2 1195.6,1100.7 1193.7,1106.2 1187.9,1106.2 1186.0,1100.7" fill="none" stroke="#ff00ff" stroke-width="2" stroke-linejoin="round"/>
<polygon points="1173.2,1106.5 1178.0,1110.0 1176.1,1115.5 1170.3,1115.5 1168.4,1110.0" fill="none" stroke="#ff00ff" stroke-width="2" stroke-linejoin="round"/>
<polygon points="1209.2,1113.2 1214.0,1116.7 1212.1,1122.2 1206.3,1122.2 1204.4,1116.7" fill="none" stroke="#ff00ff" stroke-width="2" stroke-linejoin="round"/>
<polygon points="1152.2,1122.5 1157.0,1126.0 1155.1,1131.5 1149.3,1131.5 1147.4,1126.0" fill="none" stroke="#ff00ff" stroke-width="2" stroke-linejoin="round"/>
<polygon points="1123.9,1126.5 1128.7,1130.0 1126.8,1135.5 1121.0,1135.5 1119.1,1130.0" fill="none" stroke="#ff00ff" stroke-width="2" stroke-linejoin="round"/>
<polygon points="1132.5,1126.5 1137.3,1130.0 1135.4,1135.5 1129.6,1135.5 1127.7,1130.0" fill="none" stroke="#ff00ff" stroke-width="2" stroke-linejoin="round"/>
<polygon points="1097.6,1130.9 1102.4,1134.4 1100.5,1139.9 1094.7,1139.9 1092.8,1134.4" fill="none" stroke="#ff00ff" stroke-width="2" stroke-linejoin="round"/>
<polygon points="1027.3,1108.9 1032.1,1112.4 1030.2,1117.9 1024.4,1117.9 1022.5,1112.4" fill="none" stroke="#ff00ff" stroke-width="2" stroke-linejoin="round"/>
<polygon points="1038.3,1113.2 1043.1,1116.7 1041.2,1122.2 1035.4,1122.2 1033.5,1116.7" fill="none" stroke="#ff00ff" stroke-width="2" stroke-linejoin="round"/>
<polygon points="1041.6,1117.5 1046.4,1121.0 1044.5,1126.5 1038.7,1126.5 1036.8,1121.0" fill="none" stroke="#ff00ff" stroke-width="2" stroke-linejoin="round"/>
<polygon points="1029.3,1129.2 1034.1,1132.7 1032.2,1138.2 1026.4,1138.2 1024.5,1132.7" fill="none" stroke="#ff00ff" stroke-width="2" stroke-linejoin="round"/>
<polygon points="1067.3,1124.9 1072.1,1128.4 1070.2,1133.9 1064.4,1133.9 1062.5,1128.4" fill="none" stroke="#ff00ff" stroke-width="2" stroke-linejoin="round"/>
<polygon points="1070.6,1128.2 1075.4,1131.7 1073.5,1137.2 1067.7,1137.2 1065.8,1131.7" fill="none" stroke="#ff00ff" stroke-width="2" stroke-linejoin="round"/>
<polygon points="1067.3,1133.9 1072.1,1137.4 1070.2,1142.9 1064.4,1142.9 1062.5,1137.4" fill="none" stroke="#ff00ff" stroke-width="2" stroke-linejoin="round"/>
<polygon points="1077.2,1133.2 1082.0,1136.7 1080.1,1142.2 1074.3,1142.2 1072.4,1136.7" fill="none" stroke="#ff00ff" stroke-width="2" stroke-linejoin="round"/>
<polygon points="1068.3,1144.8 1073.1,1148.3 1071.2,1153.8 1065.4,1153.8 1063.5,1148.3" fill="none" stroke="#ff00ff" stroke-width="2" stroke-linejoin="round"/>
<polygon points="1075.9,1149.8 1080.7,1153.3 1078.8,1158.8 1073.0,1158.8 1071.1,1153.3" fill="none" stroke="#ff00ff" stroke-width="2" stroke-linejoin="round"/>
<polygon points="1079.9,1153.8 1084.7,1157.3 1082.8,1162.8 1077.0,1162.8 1075.1,1157.3" fill="none" stroke="#ff00ff" stroke-width="2" stroke-linejoin="round"/>
<polygon points="1041.3,1144.8 1046.1,1148.3 1044.2,1153.8 1038.4,1153.8 1036.5,1148.3" fill="none" stroke="#ff00ff" stroke-width="2" stroke-linejoin="round"/>
<polygon points="1068.9,1157.5 1073.7,1161.0 1071.8,1166.5 1066.0,1166.5 1064.1,1161.0" fill="none" stroke="#ff00ff" stroke-width="2" stroke-linejoin="round"/>
<polygon points="991.0,1145.8 995.8,1149.3 993.9,1154.8 988.1,1154.8 986.2,1149.3" fill="none" stroke="#ff00ff" stroke-width="2" stroke-linejoin="round"/>
<polygon points="990.6,1158.2 995.4,1161.7 993.5,1167.2 987.7,1167.2 985.8,1161.7" fill="none" stroke="#ff00ff" stroke-width="2" stroke-linejoin="round"/>
<polygon points="1011.0,1160.5 1015.8,1164.0 1013.9,1169.5 1008.1,1169.5 1006.2,1164.0" fill="none" stroke="#ff00ff" stroke-width="2" stroke-linejoin="round"/>
<polygon points="1022.3,1164.8 1027.1,1168.3 1025.2,1173.8 1019.4,1173.8 1017.5,1168.3" fill="none" stroke="#ff00ff" stroke-width="2" stroke-linejoin="round"/>
<polygon points="1010.6,1169.8 1015.4,1173.3 1013.5,1178.8 1007.7,1178.8 1005.8,1173.3" fill="none" stroke="#ff00ff" stroke-width="2" stroke-linejoin="round"/>
<polygon points="1015.6,1173.8 1020.4,1177.3 1018.5,1182.8 1012.7,1182.8 1010.8,1177.3" fill="none" stroke="#ff00ff" stroke-width="2" stroke-linejoin="round"/>
<polygon points="1046.6,1159.8 1051.4,1163.3 1049.5,1168.8 1043.7,1168.8 1041.8,1163.3" fill="none" stroke="#ff00ff" stroke-width="2" stroke-linejoin="round"/>
<polygon points="1040.9,1169.8 1045.7,1173.3 1043.8,1178.8 1038.0,1178.8 1036.1,1173.3" fill="none" stroke="#ff00ff" stroke-width="2" stroke-linejoin="round"/>
<polygon points="1057.3,1169.8 1062.1,1173.3 1060.2,1178.8 1054.4,1178.8 1052.5,1173.3" fill="none" stroke="#ff00ff" stroke-width="2" stroke-linejoin="round"/>
<polygon points="1068.9,1169.8 1073.7,1173.3 1071.8,1178.8 1066.0,1178.8 1064.1,1173.3" fill="none" stroke="#ff00ff" stroke-width="2" stroke-linejoin="round"/>
<polygon points="1074.9,1181.5 1079.7,1185.0 1077.8,1190.5 1072.0,1190.5 1070.1,1185.0" fill="none" stroke="#ff00ff" stroke-width="2" stroke-linejoin="round"/>
<polygon points="1090.9,1164.8 1095.7,1168.3 1093.8,1173.8 1088.0,1173.8 1086.1,1168.3" fill="none" stroke="#ff00ff" stroke-width="2" stroke-linejoin="round"/>
<polygon points="1093.2,1177.5 1098.0,1181.0 1096.1,1186.5 1090.3,1186.5 1088.4,1181.0" fill="none" stroke="#ff00ff" stroke-width="2" stroke-linejoin="round"/>
<polygon points="1113.2,1165.5 1118.0,1169.0 1116.1,1174.5 1110.3,1174.5 1108.4,1169.0" fill="none" stroke="#ff00ff" stroke-width="2" stroke-linejoin="round"/>
<polygon points="1124.9,1157.5 1129.7,1161.0 1127.8,1166.5 1122.0,1166.5 1120.1,1161.0" fill="none" stroke="#ff00ff" stroke-width="2" stroke-linejoin="round"/>
<polygon points="1139.2,1165.5 1144.0,1169.0 1142.1,1174.5 1136.3,1174.5 1134.4,1169.0" fill="none" stroke="#ff00ff" stroke-width="2" stroke-linejoin="round"/>
<polygon points="1040.6,1189.8 1045.4,1193.3 1043.5,1198.8 1037.7,1198.8 1035.8,1193.3" fill="none" stroke="#ff00ff" stroke-width="2" stroke-linejoin="round"/>
<polygon points="1128.2,1185.5 1133.0,1189.0 1131.1,1194.5 1125.3,1194.5 1123.4,1189.0" fill="none" stroke="#ff00ff" stroke-width="2" stroke-linejoin="round"/>
<polygon points="1148.2,1189.8 1153.0,1193.3 1151.1,1198.8 1145.3,1198.8 1143.4,1193.3" fill="none" stroke="#ff00ff" stroke-width="2" stroke-linejoin="round"/>
<polygon points="1214.8,1169.8 1219.6,1173.3 1217.7,1178.8 1211.9,1178.8 1210.0,1173.3" fill="none" stroke="#ff00ff" stroke-width="2" stroke-linejoin="round"/>
<polygon points="1225.8,1159.8 1230.6,1163.3 1228.7,1168.8 1222.9,1168.8 1221.0,1163.3" fill="none" stroke="#ff00ff" stroke-width="2" stroke-linejoin="round"/>
<polygon points="1143.2,1218.1 1148.0,1221.6 1146.1,1227.1 1140.3,1227.1 1138.4,1221.6" fill="none" stroke="#ff00ff" stroke-width="2" stroke-linejoin="round"/>
<polygon points="1190.5,1227.5 1195.3,1231.0 1193.4,1236.5 1187.6,1236.5 1185.7,1231.0" fill="none" stroke="#ff00ff" stroke-width="2" stroke-linejoin="round"/>
<polygon points="1306.4,1093.2 1311.2,1096.7 1309.3,1102.2 1303.5,1102.2 1301.6,1096.7" fill="none" stroke="#ff00ff" stroke-width="2" stroke-linejoin="round"/>
<polygon points="1394.7,1077.2 1399.5,1080.7 1397.6,1086.2 1391.8,1086.2 1389.9,1080.7" fill="none" stroke="#ff00ff" stroke-width="2" stroke-linejoin="round"/>
<polygon points="1223.8,1068.9 1228.6,1072.4 1226.7,1077.9 1220.9,1077.9 1219.0,1072.4" fill="#ff00ff" stroke="#ff00ff" stroke-width="2" stroke-linejoin="round"/>
<polygon points="1268.8,1068.9 1273.6,1072.4 1271.7,1077.9 1265.9,1077.9 1264.0,1072.4" fill="#ff00ff" stroke="#ff00ff" stroke-width="2" stroke-linejoin="round"/>
<polygon points="1250.8,1088.2 1255.6,1091.7 1253.7,1097.2 1247.9,1097.2 1246.0,1091.7" fill="#ff00ff" stroke="#ff00ff" stroke-width="2" stroke-linejoin="round"/>
<polygon points="1175.5,1124.9 1180.3,1128.4 1178.4,1133.9 1172.6,1133.9 1170.7,1128.4" fill="#ff00ff" stroke="#ff00ff" stroke-width="2" stroke-linejoin="round"/>
<polygon points="1303.1,1144.8 1307.9,1148.3 1306.0,1153.8 1300.2,1153.8 1298.3,1148.3" fill="#ff00ff" stroke="#ff00ff" stroke-width="2" stroke-linejoin="round"/>
<polygon points="1172.5,1164.8 1177.3,1168.3 1175.4,1173.8 1169.6,1173.8 1167.7,1168.3" fill="#ff00ff" stroke="#ff00ff" stroke-width="2" stroke-linejoin="round"/>
<polygon points="1172.5,1169.8 1177.3,1173.3 1175.4,1178.8 1169.6,1178.8 1167.7,1173.3" fill="#ff00ff" stroke="#ff00ff" stroke-width="2" stroke-linejoin="round"/>
<polygon points="1163.2,1175.8 1168.0,1179.3 1166.1,1184.8 1160.3,1184.8 1158.4,1179.3" fill="#ff00ff" stroke="#ff00ff" stroke-width="2" stroke-linejoin="round"/>
<polygon points="1160.5,1181.5 1165.3,1185.0 1163.4,1190.5 1157.6,1190.5 1155.7,1185.0" fill="#ff00ff" stroke="#ff00ff" stroke-width="2" stroke-linejoin="round"/>
<polygon points="1190.8,1177.5 1195.6,1181.0 1193.7,1186.5 1187.9,1186.5 1186.0,1181.0" fill="#ff00ff" stroke="#ff00ff" stroke-width="2" stroke-linejoin="round"/>
<polygon points="1175.5,1201.5 1180.3,1205.0 1178.4,1210.5 1172.6,1210.5 1170.7,1205.0" fill="#ff00ff" stroke="#ff00ff" stroke-width="2" stroke-linejoin="round"/>
<polygon points="1149.9,1209.8 1154.7,1213.3 1152.8,1218.8 1147.0,1218.8 1145.1,1213.3" fill="#ff00ff" stroke="#ff00ff" stroke-width="2" stroke-linejoin="round"/>
<polygon points="1122.2,1218.1 1127.0,1221.6 1125.1,1227.1 1119.3,1227.1 1117.4,1221.6" fill="#ff00ff" stroke="#ff00ff" stroke-width="2" stroke-linejoin="round"/>
<polygon points="1146.5,1231.5 1151.3,1235.0 1149.4,1240.5 1143.6,1240.5 1141.7,1235.0" fill="#ff00ff" stroke="#ff00ff" stroke-width="2" stroke-linejoin="round"/>
<polygon points="1215.5,1226.5 1220.3,1230.0 1218.4,1235.5 1212.6,1235.5 1210.7,1230.0" fill="#ff00ff" stroke="#ff00ff" stroke-width="2" stroke-linejoin="round"/>
<polygon points="1159.9,1246.4 1164.7,1249.9 1162.8,1255.4 1157.0,1255.4 1155.1,1249.9" fill="#ff00ff" stroke="#ff00ff" stroke-width="2" stroke-linejoin="round"/>
<polygon points="1153.2,1269.8 1158.0,1273.3 1156.1,1278.8 1150.3,1278.8 1148.4,1273.3" fill="#ff00ff" stroke="#ff00ff" stroke-width="2" stroke-linejoin="round"/>
<polygon points="1152.5,1276.4 1157.3,1279.9 1155.4,1285.4 1149.6,1285.4 1147.7,1279.9" fill="#ff00ff" stroke="#ff00ff" stroke-width="2" stroke-linejoin="round"/>
<polygon points="1176.5,1278.1 1181.3,1281.6 1179.4,1287.1 1173.6,1287.1 1171.7,1281.6" fill="#ff00ff" stroke="#ff00ff" stroke-width="2" stroke-linejoin="round"/>
<polygon points="1203.8,1278.1 1208.6,1281.6 1206.7,1287.1 1200.9,1287.1 1199.0,1281.6" fill="#ff00ff" stroke="#ff00ff" stroke-width="2" stroke-linejoin="round"/>
<polygon points="1225.8,1270.4 1230.6,1273.9 1228.7,1279.4 1222.9,1279.4 1221.0,1273.9" fill="#ff00ff" stroke="#ff00ff" stroke-width="2" stroke-linejoin="round"/>
<polygon points="1306.4,1270.4 1311.2,1273.9 1309.3,1279.4 1303.5,1279.4 1301.6,1273.9" fill="#ff00ff" stroke="#ff00ff" stroke-width="2" stroke-linejoin="round"/>
<polygon points="1434.7,1254.1 1439.5,1257.6 1437.6,1263.1 1431.8,1263.1 1429.9,1257.6" fill="#ff00ff" stroke="#ff00ff" stroke-width="2" stroke-linejoin="round"/>
<polygon points="1137.2,1330.7 1142.0,1334.2 1140.1,1339.7 1134.3,1339.7 1132.4,1334.2" fill="#ff00ff" stroke="#ff00ff" stroke-width="2" stroke-linejoin="round"/>
<polygon points="977.6,1201.4 982.4,1204.9 980.5,1210.4 974.7,1210.4 972.8,1204.9" fill="none" stroke="#ff00ff" stroke-width="2" stroke-linejoin="round"/>
<polygon points="980.3,1207.8 985.1,1211.3 983.2,1216.8 977.4,1216.8 975.5,1211.3" fill="none" stroke="#ff00ff" stroke-width="2" stroke-linejoin="round"/>
<polygon points="977.6,1222.2 982.4,1225.7 980.5,1231.2 974.7,1231.2 972.8,1225.7" fill="none" stroke="#ff00ff" stroke-width="2" stroke-linejoin="round"/>
<polygon points="1005.3,1217.9 1010.1,1221.4 1008.2,1226.9 1002.4,1226.9 1000.5,1221.4" fill="none" stroke="#ff00ff" stroke-width="2" stroke-linejoin="round"/>
<polygon points="1015.4,1223.8 1020.2,1227.3 1018.3,1232.8 1012.5,1232.8 1010.6,1227.3" fill="none" stroke="#ff00ff" stroke-width="2" stroke-linejoin="round"/>
<polygon points="1034.6,1215.8 1039.4,1219.3 1037.5,1224.8 1031.7,1224.8 1029.8,1219.3" fill="none" stroke="#ff00ff" stroke-width="2" stroke-linejoin="round"/>
<polygon points="1039.4,1217.9 1044.2,1221.4 1042.3,1226.9 1036.5,1226.9 1034.6,1221.4" fill="none" stroke="#ff00ff" stroke-width="2" stroke-linejoin="round"/>
<polygon points="1033.0,1226.4 1037.8,1229.9 1035.9,1235.4 1030.1,1235.4 1028.2,1229.9" fill="none" stroke="#ff00ff" stroke-width="2" stroke-linejoin="round"/>
<polygon points="1013.3,1238.2 1018.1,1241.7 1016.2,1247.2 1010.4,1247.2 1008.5,1241.7" fill="none" stroke="#ff00ff" stroke-width="2" stroke-linejoin="round"/>
<polygon points="1026.6,1238.7 1031.4,1242.2 1029.5,1247.7 1023.7,1247.7 1021.8,1242.2" fill="none" stroke="#ff00ff" stroke-width="2" stroke-linejoin="round"/>
<polygon points="1019.7,1246.7 1024.5,1250.2 1022.6,1255.7 1016.8,1255.7 1014.9,1250.2" fill="none" stroke="#ff00ff" stroke-width="2" stroke-linejoin="round"/>
<polygon points="1030.4,1249.4 1035.2,1252.9 1033.3,1258.4 1027.5,1258.4 1025.6,1252.9" fill="none" stroke="#ff00ff" stroke-width="2" stroke-linejoin="round"/>
<polygon points="1011.2,1258.4 1016.0,1261.9 1014.1,1267.4 1008.3,1267.4 1006.4,1261.9" fill="none" stroke="#ff00ff" stroke-width="2" stroke-linejoin="round"/>
<polygon points="1055.4,1198.2 1060.2,1201.7 1058.3,1207.2 1052.5,1207.2 1050.6,1201.7" fill="none" stroke="#ff00ff" stroke-width="2" stroke-linejoin="round"/>
<polygon points="1067.7,1217.9 1072.5,1221.4 1070.6,1226.9 1064.8,1226.9 1062.9,1221.4" fill="none" stroke="#ff00ff" stroke-width="2" stroke-linejoin="round"/>
<polygon points="1061.3,1225.9 1066.1,1229.4 1064.2,1234.9 1058.4,1234.9 1056.5,1229.4" fill="none" stroke="#ff00ff" stroke-width="2" stroke-linejoin="round"/>
<polygon points="1083.7,1213.7 1088.5,1217.2 1086.6,1222.7 1080.8,1222.7 1078.9,1217.2" fill="none" stroke="#ff00ff" stroke-width="2" stroke-linejoin="round"/>
<polygon points="1110.3,1200.3 1115.1,1203.8 1113.2,1209.3 1107.4,1209.3 1105.5,1203.8" fill="none" stroke="#ff00ff" stroke-width="2" stroke-linejoin="round"/>
<polygon points="1049.0,1234.4 1053.8,1237.9 1051.9,1243.4 1046.1,1243.4 1044.2,1237.9" fill="none" stroke="#ff00ff" stroke-width="2" stroke-linejoin="round"/>
<polygon points="1100.2,1209.9 1105.0,1213.4 1103.1,1218.9 1097.3,1218.9 1095.4,1213.4" fill="#ff00ff" stroke="#ff00ff" stroke-width="2" stroke-linejoin="round"/>
<polygon points="1084.7,1219.5 1089.5,1223.0 1087.6,1228.5 1081.8,1228.5 1079.9,1223.0" fill="#ff00ff" stroke="#ff00ff" stroke-width="2" stroke-linejoin="round"/>
<polygon points="1082.6,1225.9 1087.4,1229.4 1085.5,1234.9 1079.7,1234.9 1077.8,1229.4" fill="#ff00ff" stroke="#ff00ff" stroke-width="2" stroke-linejoin="round"/>
<polygon points="1087.9,1227.0 1092.7,1230.5 1090.8,1236.0 1085.0,1236.0 1083.1,1230.5" fill="#ff00ff" stroke="#ff00ff" stroke-width="2" stroke-linejoin="round"/>
<polygon points="1080.5,1230.2 1085.3,1233.7 1083.4,1239.2 1077.6,1239.2 1075.7,1233.7" fill="#ff00ff" stroke="#ff00ff" stroke-width="2" stroke-linejoin="round"/>
<polygon points="1087.9,1236.6 1092.7,1240.1 1090.8,1245.6 1085.0,1245.6 1083.1,1240.1" fill="#ff00ff" stroke="#ff00ff" stroke-width="2" stroke-linejoin="round"/>
<polygon points="1097.5,1234.4 1102.3,1237.9 1100.4,1243.4 1094.6,1243.4 1092.7,1237.9" fill="#ff00ff" stroke="#ff00ff" stroke-width="2" stroke-linejoin="round"/>
<polygon points="1110.3,1236.6 1115.1,1240.1 1113.2,1245.6 1107.4,1245.6 1105.5,1240.1" fill="#ff00ff" stroke="#ff00ff" stroke-width="2" stroke-linejoin="round"/>
<polygon points="1115.7,1238.7 1120.5,1242.2 1118.6,1247.7 1112.8,1247.7 1110.9,1242.2" fill="#ff00ff" stroke="#ff00ff" stroke-width="2" stroke-linejoin="round"/>
<polygon points="1117.8,1251.5 1122.6,1255.0 1120.7,1260.5 1114.9,1260.5 1113.0,1255.0" fill="#ff00ff" stroke="#ff00ff" stroke-width="2" stroke-linejoin="round"/>
<polygon points="1044.2,1234.4 1049.0,1237.9 1047.1,1243.4 1041.3,1243.4 1039.4,1237.9" fill="#ff00ff" stroke="#ff00ff" stroke-width="2" stroke-linejoin="round"/>
<polygon points="1064.5,1234.4 1069.3,1237.9 1067.4,1243.4 1061.6,1243.4 1059.7,1237.9" fill="#ff00ff" stroke="#ff00ff" stroke-width="2" stroke-linejoin="round"/>
<polygon points="1057.0,1246.7 1061.8,1250.2 1059.9,1255.7 1054.1,1255.7 1052.2,1250.2" fill="#ff00ff" stroke="#ff00ff" stroke-width="2" stroke-linejoin="round"/>
<polygon points="1065.5,1249.4 1070.3,1252.9 1068.4,1258.4 1062.6,1258.4 1060.7,1252.9" fill="#ff00ff" stroke="#ff00ff" stroke-width="2" stroke-linejoin="round"/>
<polygon points="1073.0,1247.2 1077.8,1250.7 1075.9,1256.2 1070.1,1256.2 1068.2,1250.7" fill="#ff00ff" stroke="#ff00ff" stroke-width="2" stroke-linejoin="round"/>
<polygon points="1082.6,1250.4 1087.4,1253.9 1085.5,1259.4 1079.7,1259.4 1077.8,1253.9" fill="#ff00ff" stroke="#ff00ff" stroke-width="2" stroke-linejoin="round"/>
<polygon points="1061.3,1261.1 1066.1,1264.6 1064.2,1270.1 1058.4,1270.1 1056.5,1264.6" fill="#ff00ff" stroke="#ff00ff" stroke-width="2" stroke-linejoin="round"/>
<polygon points="1067.7,1265.4 1072.5,1268.9 1070.6,1274.4 1064.8,1274.4 1062.9,1268.9" fill="#ff00ff" stroke="#ff00ff" stroke-width="2" stroke-linejoin="round"/>
<polygon points="1073.0,1261.1 1077.8,1264.6 1075.9,1270.1 1070.1,1270.1 1068.2,1264.6" fill="#ff00ff" stroke="#ff00ff" stroke-width="2" stroke-linejoin="round"/>
<polygon points="1079.4,1267.5 1084.2,1271.0 1082.3,1276.5 1076.5,1276.5 1074.6,1271.0" fill="#ff00ff" stroke="#ff00ff" stroke-width="2" stroke-linejoin="round"/>
<polygon points="1084.7,1265.4 1089.5,1268.9 1087.6,1274.4 1081.8,1274.4 1079.9,1268.9" fill="#ff00ff" stroke="#ff00ff" stroke-width="2" stroke-linejoin="round"/>
<polygon points="1030.4,1254.7 1035.2,1258.2 1033.3,1263.7 1027.5,1263.7 1025.6,1258.2" fill="#ff00ff" stroke="#ff00ff" stroke-width="2" stroke-linejoin="round"/>
<polygon points="1044.2,1251.5 1049.0,1255.0 1047.1,1260.5 1041.3,1260.5 1039.4,1255.0" fill="#ff00ff" stroke="#ff00ff" stroke-width="2" stroke-linejoin="round"/>
<polygon points="1041.0,1259.0 1045.8,1262.5 1043.9,1268.0 1038.1,1268.0 1036.2,1262.5" fill="#ff00ff" stroke="#ff00ff" stroke-width="2" stroke-linejoin="round"/>
<polygon points="1047.4,1261.1 1052.2,1264.6 1050.3,1270.1 1044.5,1270.1 1042.6,1264.6" fill="#ff00ff" stroke="#ff00ff" stroke-width="2" stroke-linejoin="round"/>
<polygon points="1034.6,1263.2 1039.4,1266.7 1037.5,1272.2 1031.7,1272.2 1029.8,1266.7" fill="#ff00ff" stroke="#ff00ff" stroke-width="2" stroke-linejoin="round"/>
<polygon points="1038.9,1269.6 1043.7,1273.1 1041.8,1278.6 1036.0,1278.6 1034.1,1273.1" fill="#ff00ff" stroke="#ff00ff" stroke-width="2" stroke-linejoin="round"/>
<polygon points="1049.6,1267.5 1054.4,1271.0 1052.5,1276.5 1046.7,1276.5 1044.8,1271.0" fill="#ff00ff" stroke="#ff00ff" stroke-width="2" stroke-linejoin="round"/>
<polygon points="1017.6,1270.7 1022.4,1274.2 1020.5,1279.7 1014.7,1279.7 1012.8,1274.2" fill="#ff00ff" stroke="#ff00ff" stroke-width="2" stroke-linejoin="round"/>
<polygon points="1028.2,1272.8 1033.0,1276.3 1031.1,1281.8 1025.3,1281.8 1023.4,1276.3" fill="#ff00ff" stroke="#ff00ff" stroke-width="2" stroke-linejoin="round"/>
<polygon points="1024.0,1279.2 1028.8,1282.7 1026.9,1288.2 1021.1,1288.2 1019.2,1282.7" fill="#ff00ff" stroke="#ff00ff" stroke-width="2" stroke-linejoin="round"/>
<polygon points="1014.4,1280.3 1019.2,1283.8 1017.3,1289.3 1011.5,1289.3 1009.6,1283.8" fill="#ff00ff" stroke="#ff00ff" stroke-width="2" stroke-linejoin="round"/>
<polygon points="1003.7,1278.7 1008.5,1282.2 1006.6,1287.7 1000.8,1287.7 998.9,1282.2" fill="#ff00ff" stroke="#ff00ff" stroke-width="2" stroke-linejoin="round"/>
<polygon points="1011.2,1287.8 1016.0,1291.3 1014.1,1296.8 1008.3,1296.8 1006.4,1291.3" fill="#ff00ff" stroke="#ff00ff" stroke-width="2" stroke-linejoin="round"/>
<polygon points="1027.2,1286.7 1032.0,1290.2 1030.1,1295.7 1024.3,1295.7 1022.4,1290.2" fill="#ff00ff" stroke="#ff00ff" stroke-width="2" stroke-linejoin="round"/>
<polygon points="1036.8,1287.8 1041.6,1291.3 1039.7,1296.8 1033.9,1296.8 1032.0,1291.3" fill="#ff00ff" stroke="#ff00ff" stroke-width="2" stroke-linejoin="round"/>
<polygon points="1049.6,1281.4 1054.4,1284.9 1052.5,1290.4 1046.7,1290.4 1044.8,1284.9" fill="#ff00ff" stroke="#ff00ff" stroke-width="2" stroke-linejoin="round"/>
<polygon points="1043.2,1278.2 1048.0,1281.7 1046.1,1287.2 1040.3,1287.2 1038.4,1281.7" fill="#ff00ff" stroke="#ff00ff" stroke-width="2" stroke-linejoin="round"/>
<polygon points="1019.7,1283.5 1024.5,1287.0 1022.6,1292.5 1016.8,1292.5 1014.9,1287.0" fill="#ff00ff" stroke="#ff00ff" stroke-width="2" stroke-linejoin="round"/>
<polygon points="988.3,1304.3 993.1,1307.8 991.2,1313.3 985.4,1313.3 983.5,1307.8" fill="#ff00ff" stroke="#ff00ff" stroke-width="2" stroke-linejoin="round"/>
<polygon points="983.5,1308.0 988.3,1311.5 986.4,1317.0 980.6,1317.0 978.7,1311.5" fill="#ff00ff" stroke="#ff00ff" stroke-width="2" stroke-linejoin="round"/>
<polygon points="989.9,1314.9 994.7,1318.4 992.8,1323.9 987.0,1323.9 985.1,1318.4" fill="#ff00ff" stroke="#ff00ff" stroke-width="2" stroke-linejoin="round"/>
<polygon points="973.9,1316.5 978.7,1320.0 976.8,1325.5 971.0,1325.5 969.1,1320.0" fill="#ff00ff" stroke="#ff00ff" stroke-width="2" stroke-linejoin="round"/>
<polygon points="981.3,1322.9 986.1,1326.4 984.2,1331.9 978.4,1331.9 976.5,1326.4" fill="#ff00ff" stroke="#ff00ff" stroke-width="2" stroke-linejoin="round"/>
<polygon points="977.1,1319.7 981.9,1323.2 980.0,1328.7 974.2,1328.7 972.3,1323.2" fill="#ff00ff" stroke="#ff00ff" stroke-width="2" stroke-linejoin="round"/>
<polygon points="1028.2,1310.7 1033.0,1314.2 1031.1,1319.7 1025.3,1319.7 1023.4,1314.2" fill="#ff00ff" stroke="#ff00ff" stroke-width="2" stroke-linejoin="round"/>
<line x1="974.4" y1="1272.9" x2="1435.0" y2="990.5" stroke="#000" stroke-width="3.28" stroke-dasharray="12.15 5.25"/>
</g>
<rect x="879.3" y="775.6" width="595.8" height="645.6" fill="none" stroke="#000" stroke-width="1.6"/>
<text x="879.3" y="1459.9" font-size="32" text-anchor="middle">0</text>
<text x="1040.7" y="1459.9" font-size="32" text-anchor="middle">2</text>
<text x="1202.1" y="1459.9" font-size="32" text-anchor="middle">4</text>
<text x="1363.5" y="1459.9" font-size="32" text-anchor="middle">6</text>
<text x="865.3" y="1433.0" font-size="32" text-anchor="end">0</text>
<text x="865.3" y="1271.6" font-size="32" text-anchor="end">2</text>
<text x="865.3" y="1110.2" font-size="32" text-anchor="end">4</text>
<text x="865.3" y="948.8" font-size="32" text-anchor="end">6</text>
<text x="865.3" y="787.4" font-size="32" text-anchor="end">8</text>
<path d="M879.3,1421.2v7M1040.7,1421.2v7M1202.1,1421.2v7M1363.5,1421.2v7M879.3,1421.2h-7M879.3,1259.8h-7M879.3,1098.4h-7M879.3,937.0h-7M879.3,775.6h-7" stroke="#000" stroke-width="1.6"/>
<text x="1177.2" y="1498.2" font-size="32" letter-spacing="-0.6" text-anchor="middle">fo<tspan font-style="italic">μ</tspan>Es [MHz]</text>
<text transform="translate(828.8,1098.4) rotate(-90)" x="0" y="0" font-size="32" letter-spacing="-0.6" text-anchor="middle">fbEs [MHz]</text>
<line x1="1070" y1="824" x2="1114" y2="824" stroke="#000" stroke-width="3.28" stroke-dasharray="12.15 5.25"/>
<text x="1132.3" y="811.5" font-size="22" letter-spacing="-0.1">fbEs=0.61×fo<tspan font-style="italic">μ</tspan>Es+1.12</text>
<text x="1132.3" y="842.4" font-size="22" letter-spacing="-0.1">R<tspan dy="-8.3" font-size="15.4">2</tspan><tspan dy="8.3">=0.36; </tspan><tspan font-style="italic">ρ</tspan>=0.57; p-val=0.00</text>
</g>
</svg></body></html>
